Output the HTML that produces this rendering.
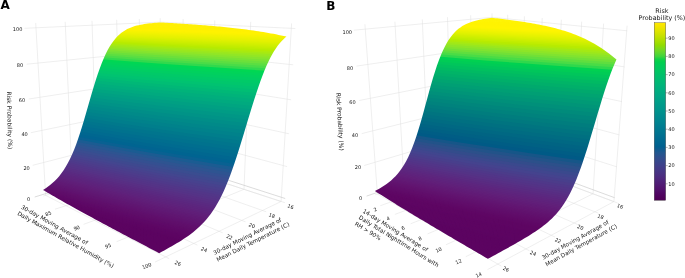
<!DOCTYPE html>
<html><head><meta charset="utf-8"><title>Figure</title>
<style>html,body{margin:0;padding:0;background:#fff}svg{display:block}text{font-family:"DejaVu Sans","Liberation Sans",sans-serif;fill:#151515}</style>
</head><body>
<svg width="685" height="278" viewBox="0 0 685 278">
<line x1="45.6" y1="195.3" x2="35.7" y2="22.9" stroke="#dedede" stroke-width="0.5"/>
<line x1="45.6" y1="195.3" x2="169.2" y2="258.7" stroke="#dedede" stroke-width="0.5"/>
<line x1="72.5" y1="187.5" x2="65.2" y2="21.8" stroke="#dedede" stroke-width="0.5"/>
<line x1="72.5" y1="187.5" x2="197.4" y2="245.1" stroke="#dedede" stroke-width="0.5"/>
<line x1="97.1" y1="180.3" x2="92.0" y2="20.8" stroke="#dedede" stroke-width="0.5"/>
<line x1="97.1" y1="180.3" x2="222.7" y2="232.8" stroke="#dedede" stroke-width="0.5"/>
<line x1="119.8" y1="173.7" x2="116.7" y2="19.8" stroke="#dedede" stroke-width="0.5"/>
<line x1="119.8" y1="173.7" x2="245.5" y2="221.8" stroke="#dedede" stroke-width="0.5"/>
<line x1="140.9" y1="167.6" x2="139.3" y2="19.0" stroke="#dedede" stroke-width="0.5"/>
<line x1="140.9" y1="167.6" x2="266.2" y2="211.8" stroke="#dedede" stroke-width="0.5"/>
<line x1="160.3" y1="161.9" x2="160.2" y2="18.2" stroke="#dedede" stroke-width="0.5"/>
<line x1="160.3" y1="161.9" x2="284.9" y2="202.7" stroke="#dedede" stroke-width="0.5"/>
<line x1="181.7" y1="168.9" x2="183.1" y2="19.1" stroke="#dedede" stroke-width="0.5"/>
<line x1="181.7" y1="168.9" x2="55.0" y2="209.2" stroke="#dedede" stroke-width="0.5"/>
<line x1="211.1" y1="178.5" x2="214.8" y2="20.4" stroke="#dedede" stroke-width="0.5"/>
<line x1="211.1" y1="178.5" x2="83.6" y2="224.3" stroke="#dedede" stroke-width="0.5"/>
<line x1="244.0" y1="189.3" x2="250.7" y2="21.8" stroke="#dedede" stroke-width="0.5"/>
<line x1="244.0" y1="189.3" x2="116.6" y2="241.7" stroke="#dedede" stroke-width="0.5"/>
<line x1="281.1" y1="201.5" x2="291.6" y2="23.4" stroke="#dedede" stroke-width="0.5"/>
<line x1="281.1" y1="201.5" x2="155.1" y2="262.0" stroke="#dedede" stroke-width="0.5"/>
<line x1="160.3" y1="161.9" x2="43.4" y2="196.0" stroke="#dedede" stroke-width="0.5"/>
<line x1="160.3" y1="161.9" x2="281.1" y2="201.5" stroke="#dedede" stroke-width="0.5"/>
<line x1="160.3" y1="158.4" x2="34.7" y2="197.0" stroke="#b8b8b8" stroke-width="0.5"/>
<line x1="160.3" y1="158.4" x2="285.2" y2="198.5" stroke="#b8b8b8" stroke-width="0.5"/>
<line x1="160.3" y1="132.5" x2="32.7" y2="165.3" stroke="#dedede" stroke-width="0.5"/>
<line x1="160.3" y1="132.5" x2="287.1" y2="166.6" stroke="#dedede" stroke-width="0.5"/>
<line x1="160.3" y1="106.0" x2="30.8" y2="132.7" stroke="#dedede" stroke-width="0.5"/>
<line x1="160.3" y1="106.0" x2="289.1" y2="133.8" stroke="#dedede" stroke-width="0.5"/>
<line x1="160.3" y1="78.8" x2="28.7" y2="99.0" stroke="#dedede" stroke-width="0.5"/>
<line x1="160.3" y1="78.8" x2="291.1" y2="99.8" stroke="#dedede" stroke-width="0.5"/>
<line x1="160.2" y1="50.8" x2="26.7" y2="64.2" stroke="#dedede" stroke-width="0.5"/>
<line x1="160.2" y1="50.8" x2="293.2" y2="64.8" stroke="#dedede" stroke-width="0.5"/>
<line x1="160.2" y1="22.1" x2="24.5" y2="28.3" stroke="#dedede" stroke-width="0.5"/>
<line x1="160.2" y1="22.1" x2="295.3" y2="28.5" stroke="#dedede" stroke-width="0.5"/>
<mask id="ca" maskUnits="userSpaceOnUse" x="0" y="0" width="685" height="278"><polygon fill="#fff" points="43.03,189.90 45.41,188.40 47.77,186.77 50.10,185.01 52.41,183.10 54.70,181.00 56.96,178.69 59.19,176.15 61.40,173.35 63.58,170.26 65.74,166.85 67.87,163.11 69.97,159.00 72.05,154.51 74.10,149.63 76.13,144.38 78.14,138.75 80.13,132.78 82.10,126.51 84.06,119.99 86.01,113.31 87.96,106.54 89.90,99.75 91.84,93.05 93.79,86.52 95.73,80.23 97.69,74.26 99.65,68.64 101.62,63.42 103.59,58.63 105.57,54.26 107.55,50.32 109.53,46.79 111.51,43.65 113.50,40.88 115.48,38.43 117.45,36.30 119.42,34.43 121.39,32.80 123.34,31.39 125.29,30.17 127.23,29.11 129.16,28.19 131.08,27.40 132.99,26.71 134.88,26.11 136.77,25.59 138.64,25.14 140.51,24.74 142.36,24.39 144.19,24.08 146.02,23.81 147.83,23.57 149.64,23.35 151.43,23.15 153.21,22.97 154.97,22.81 156.73,22.66 158.47,22.53 160.21,22.40 161.93,22.50 163.66,22.60 165.40,22.70 167.15,22.80 168.92,22.90 170.70,23.01 172.49,23.12 174.29,23.23 176.11,23.34 177.94,23.45 179.78,23.57 181.64,23.69 183.51,23.81 185.39,23.93 187.28,24.06 189.19,24.19 191.12,24.32 193.05,24.46 195.01,24.60 196.97,24.74 198.95,24.89 200.95,25.04 202.96,25.19 204.98,25.35 207.02,25.52 209.08,25.69 211.15,25.86 213.23,26.04 215.33,26.22 217.45,26.41 219.59,26.61 221.73,26.81 223.90,27.02 226.08,27.24 228.28,27.46 230.50,27.69 232.73,27.93 234.98,28.18 237.25,28.44 239.53,28.71 241.83,28.99 244.15,29.28 246.49,29.58 248.85,29.90 251.22,30.22 253.62,30.56 256.03,30.92 258.46,31.29 260.91,31.67 263.38,32.08 265.87,32.50 268.37,32.93 270.90,33.39 273.45,33.87 276.01,34.37 278.60,34.89 281.21,35.44 283.83,36.01 286.48,36.60 284.77,38.02 283.03,39.63 281.27,41.44 279.49,43.49 277.68,45.79 275.85,48.38 273.99,51.27 272.11,54.49 270.19,58.07 268.25,62.02 266.28,66.36 264.29,71.10 262.27,76.24 260.22,81.76 258.15,87.66 256.05,93.90 253.94,100.44 251.81,107.24 249.67,114.23 247.52,121.35 245.37,128.54 243.20,135.72 241.04,142.82 238.88,149.78 236.72,156.53 234.56,163.05 232.40,169.27 230.25,175.18 228.11,180.76 225.96,185.99 223.82,190.88 221.67,195.44 219.53,199.67 217.38,203.59 215.23,207.21 213.07,210.57 210.91,213.69 208.73,216.57 206.54,219.26 204.34,221.76 202.13,224.09 199.91,226.29 197.67,228.35 195.41,230.31 193.13,232.16 190.84,233.93 188.53,235.63 186.20,237.27 183.85,238.85 181.48,240.39 179.08,241.89 176.67,243.35 174.23,244.79 171.77,246.21 169.29,247.62 166.78,249.01 164.25,250.39 161.69,251.76 159.11,253.13 156.56,251.80 154.04,250.48 151.54,249.17 149.07,247.88 146.63,246.60 144.21,245.33 141.81,244.07 139.43,242.82 137.08,241.59 134.75,240.36 132.45,239.15 130.17,237.94 127.90,236.75 125.66,235.57 123.45,234.40 121.25,233.23 119.07,232.08 116.92,230.93 114.78,229.80 112.66,228.67 110.57,227.55 108.49,226.44 106.43,225.34 104.39,224.25 102.37,223.17 100.37,222.09 98.38,221.02 96.42,219.96 94.47,218.91 92.53,217.86 90.62,216.82 88.72,215.79 86.84,214.77 84.97,213.75 83.12,212.73 81.29,211.73 79.47,210.73 77.67,209.73 75.88,208.74 74.11,207.76 72.35,206.78 70.61,205.81 68.88,204.84 67.16,203.88 65.46,202.92 63.77,201.97 62.10,201.02 60.44,200.07 58.80,199.13 57.16,198.19 55.54,197.26 53.93,196.33 52.34,195.40 50.76,194.48 49.19,193.56 47.63,192.64 46.08,191.72 44.55,190.81"/></mask>
<g mask="url(#ca)">
<polygon points="145.9,21.9 173.6,22.6 203.4,23.3 235.3,24.0 269.4,24.7 305.9,25.4 345.0,26.2 343.0,26.4 303.9,25.7 267.3,24.9 233.1,24.2 201.2,23.4 171.4,22.7 143.6,22.1" fill="#ffee00"/>
<polygon points="145.1,22.0 172.9,22.6 202.7,23.3 234.5,24.0 268.7,24.8 305.3,25.5 344.3,26.3 342.4,26.5 303.2,25.7 266.5,25.0 232.3,24.2 200.4,23.5 170.7,22.8 142.9,22.1" fill="#ffee00"/>
<polygon points="144.4,22.0 172.2,22.7 201.9,23.4 233.8,24.1 268.0,24.8 304.6,25.6 343.7,26.4 341.7,26.6 302.5,25.8 265.8,25.0 231.6,24.3 199.7,23.6 169.9,22.9 142.1,22.2" fill="#ffee00"/>
<polygon points="143.6,22.1 171.4,22.7 201.2,23.4 233.1,24.2 267.3,24.9 303.9,25.7 343.0,26.4 341.1,26.7 301.8,25.9 265.1,25.1 230.9,24.4 198.9,23.6 169.2,22.9 141.4,22.2" fill="#ffee00"/>
<polygon points="142.9,22.1 170.7,22.8 200.4,23.5 232.3,24.2 266.5,25.0 303.2,25.7 342.4,26.5 340.4,26.8 301.1,26.0 264.4,25.2 230.1,24.4 198.2,23.7 168.4,23.0 140.6,22.3" fill="#ffee00"/>
<polygon points="142.1,22.2 169.9,22.9 199.7,23.6 231.6,24.3 265.8,25.0 302.5,25.8 341.7,26.6 339.7,26.8 300.4,26.1 263.7,25.3 229.4,24.5 197.4,23.8 167.6,23.0 139.9,22.3" fill="#ffee00"/>
<polygon points="141.4,22.2 169.2,22.9 198.9,23.6 230.9,24.4 265.1,25.1 301.8,25.9 341.1,26.7 339.1,26.9 299.7,26.1 262.9,25.3 228.6,24.6 196.7,23.8 166.9,23.1 139.1,22.4" fill="#ffee00"/>
<polygon points="140.6,22.3 168.4,23.0 198.2,23.7 230.1,24.4 264.4,25.2 301.1,26.0 340.4,26.8 338.4,27.0 299.0,26.2 262.2,25.4 227.9,24.7 195.9,23.9 166.1,23.2 138.4,22.5" fill="#ffee00"/>
<polygon points="139.9,22.3 167.6,23.0 197.4,23.8 229.4,24.5 263.7,25.3 300.4,26.1 339.7,26.8 337.7,27.1 298.3,26.3 261.5,25.5 227.1,24.7 195.2,24.0 165.4,23.2 137.6,22.5" fill="#ffee00"/>
<polygon points="139.1,22.4 166.9,23.1 196.7,23.8 228.6,24.6 262.9,25.3 299.7,26.1 339.1,26.9 337.0,27.2 297.5,26.4 260.7,25.6 226.4,24.8 194.4,24.1 164.6,23.3 136.8,22.6" fill="#ffee00"/>
<polygon points="138.4,22.5 166.1,23.2 195.9,23.9 227.9,24.7 262.2,25.4 299.0,26.2 338.4,27.0 336.3,27.3 296.8,26.5 260.0,25.7 225.6,24.9 193.6,24.1 163.8,23.4 136.1,22.7" fill="#ffee00"/>
<polygon points="137.6,22.5 165.4,23.2 195.2,24.0 227.1,24.7 261.5,25.5 298.3,26.3 337.7,27.1 335.7,27.4 296.1,26.6 259.2,25.8 224.9,25.0 192.9,24.2 163.1,23.5 135.3,22.8" fill="#ffee00"/>
<polygon points="136.8,22.6 164.6,23.3 194.4,24.1 226.4,24.8 260.7,25.6 297.5,26.4 337.0,27.2 335.0,27.6 295.4,26.7 258.5,25.9 224.1,25.1 192.1,24.3 162.3,23.6 134.5,22.8" fill="#ffee00"/>
<polygon points="136.1,22.7 163.8,23.4 193.6,24.1 225.6,24.9 260.0,25.7 296.8,26.5 336.3,27.3 334.3,27.7 294.7,26.8 257.7,26.0 223.3,25.2 191.3,24.4 161.5,23.7 133.8,22.9" fill="#ffee00"/>
<polygon points="135.3,22.8 163.1,23.5 192.9,24.2 224.9,25.0 259.2,25.8 296.1,26.6 335.7,27.4 333.6,27.8 293.9,26.9 257.0,26.1 222.6,25.3 190.5,24.5 160.7,23.8 133.0,23.0" fill="#ffee00"/>
<polygon points="134.5,22.8 162.3,23.6 192.1,24.3 224.1,25.1 258.5,25.9 295.4,26.7 335.0,27.6 332.9,27.9 293.2,27.1 256.2,26.2 221.8,25.4 189.8,24.6 160.0,23.8 132.2,23.1" fill="#ffee00"/>
<polygon points="133.8,22.9 161.5,23.7 191.3,24.4 223.3,25.2 257.7,26.0 294.7,26.8 334.3,27.7 332.2,28.1 292.5,27.2 255.5,26.3 221.0,25.5 189.0,24.7 159.2,24.0 131.4,23.2" fill="#ffee00"/>
<polygon points="133.0,23.0 160.7,23.8 190.5,24.5 222.6,25.3 257.0,26.1 293.9,26.9 333.6,27.8 331.5,28.2 291.7,27.3 254.7,26.5 220.3,25.6 188.2,24.8 158.4,24.1 130.7,23.3" fill="#ffee00"/>
<polygon points="132.2,23.1 160.0,23.8 189.8,24.6 221.8,25.4 256.2,26.2 293.2,27.1 332.9,27.9 330.8,28.3 291.0,27.5 253.9,26.6 219.5,25.8 187.4,25.0 157.6,24.2 129.9,23.4" fill="#ffee00"/>
<polygon points="131.4,23.2 159.2,24.0 189.0,24.7 221.0,25.5 255.5,26.3 292.5,27.2 332.2,28.1 330.1,28.5 290.2,27.6 253.2,26.7 218.7,25.9 186.6,25.1 156.8,24.3 129.1,23.5" fill="#ffee00"/>
<polygon points="130.7,23.3 158.4,24.1 188.2,24.8 220.3,25.6 254.7,26.5 291.7,27.3 331.5,28.2 329.3,28.7 289.5,27.8 252.4,26.9 217.9,26.0 185.8,25.2 156.0,24.4 128.3,23.6" fill="#ffee00"/>
<polygon points="129.9,23.4 157.6,24.2 187.4,25.0 219.5,25.8 253.9,26.6 291.0,27.5 330.8,28.3 328.6,28.8 288.7,27.9 251.6,27.0 217.1,26.2 185.0,25.3 155.2,24.5 127.5,23.8" fill="#ffee00"/>
<polygon points="129.1,23.5 156.8,24.3 186.6,25.1 218.7,25.9 253.2,26.7 290.2,27.6 330.1,28.5 327.9,29.0 288.0,28.1 250.9,27.2 216.3,26.3 184.3,25.5 154.4,24.7 126.7,23.9" fill="#ffee00"/>
<polygon points="128.3,23.6 156.0,24.4 185.8,25.2 217.9,26.0 252.4,26.9 289.5,27.8 329.3,28.7 327.2,29.2 287.2,28.3 250.1,27.4 215.5,26.5 183.5,25.6 153.6,24.8 125.9,24.0" fill="#ffee00"/>
<polygon points="127.5,23.8 155.2,24.5 185.0,25.3 217.1,26.2 251.6,27.0 288.7,27.9 328.6,28.8 326.5,29.4 286.5,28.4 249.3,27.5 214.8,26.7 182.7,25.8 152.8,25.0 125.1,24.2" fill="#ffee00"/>
<polygon points="126.7,23.9 154.4,24.7 184.3,25.5 216.3,26.3 250.9,27.2 288.0,28.1 327.9,29.0 325.7,29.6 285.7,28.6 248.5,27.7 214.0,26.8 181.9,26.0 152.0,25.1 124.3,24.3" fill="#ffee00"/>
<polygon points="125.9,24.0 153.6,24.8 183.5,25.6 215.5,26.5 250.1,27.4 287.2,28.3 327.2,29.2 325.0,29.8 284.9,28.8 247.7,27.9 213.2,27.0 181.0,26.2 151.2,25.3 123.5,24.5" fill="#ffee00"/>
<polygon points="125.1,24.2 152.8,25.0 182.7,25.8 214.8,26.7 249.3,27.5 286.5,28.4 326.5,29.4 324.2,30.0 284.2,29.1 246.9,28.1 212.4,27.2 180.2,26.3 150.4,25.5 122.7,24.7" fill="#ffef00"/>
<polygon points="124.3,24.3 152.0,25.1 181.9,26.0 214.0,26.8 248.5,27.7 285.7,28.6 325.7,29.6 323.5,30.3 283.4,29.3 246.1,28.3 211.5,27.4 179.4,26.5 149.6,25.7 121.9,24.9" fill="#ffef00"/>
<polygon points="123.5,24.5 151.2,25.3 181.0,26.2 213.2,27.0 247.7,27.9 284.9,28.8 325.0,29.8 322.8,30.5 282.6,29.5 245.3,28.6 210.7,27.7 178.6,26.8 148.8,25.9 121.1,25.1" fill="#ffef00"/>
<polygon points="122.7,24.7 150.4,25.5 180.2,26.3 212.4,27.2 246.9,28.1 284.2,29.1 324.2,30.0 322.0,30.8 281.8,29.8 244.5,28.8 209.9,27.9 177.8,27.0 148.0,26.1 120.3,25.3" fill="#ffef00"/>
<polygon points="121.9,24.9 149.6,25.7 179.4,26.5 211.5,27.4 246.1,28.3 283.4,29.3 323.5,30.3 321.3,31.1 281.1,30.1 243.7,29.1 209.1,28.1 177.0,27.2 147.2,26.3 119.5,25.5" fill="#fff000"/>
<polygon points="121.1,25.1 148.8,25.9 178.6,26.8 210.7,27.7 245.3,28.6 282.6,29.5 322.8,30.5 320.5,31.4 280.3,30.4 242.9,29.4 208.3,28.4 176.2,27.5 146.4,26.6 118.7,25.7" fill="#fff000"/>
<polygon points="120.3,25.3 148.0,26.1 177.8,27.0 209.9,27.9 244.5,28.8 281.8,29.8 322.0,30.8 319.7,31.7 279.5,30.7 242.1,29.7 207.5,28.7 175.3,27.7 145.5,26.8 117.9,26.0" fill="#fff000"/>
<polygon points="119.5,25.5 147.2,26.3 177.0,27.2 209.1,28.1 243.7,29.1 281.1,30.1 321.3,31.1 319.0,32.0 278.7,31.0 241.3,30.0 206.6,29.0 174.5,28.0 144.7,27.1 117.1,26.2" fill="#fff000"/>
<polygon points="118.7,25.7 146.4,26.6 176.2,27.5 208.3,28.4 242.9,29.4 280.3,30.4 320.5,31.4 318.2,32.4 277.9,31.3 240.5,30.3 205.8,29.3 173.7,28.3 143.9,27.4 116.3,26.5" fill="#fff000"/>
<polygon points="117.9,26.0 145.5,26.8 175.3,27.7 207.5,28.7 242.1,29.7 279.5,30.7 319.7,31.7 317.4,32.8 277.1,31.7 239.7,30.7 205.0,29.6 172.9,28.7 143.1,27.7 115.4,26.8" fill="#fff000"/>
<polygon points="117.1,26.2 144.7,27.1 174.5,28.0 206.6,29.0 241.3,30.0 278.7,31.0 319.0,32.0 316.6,33.2 276.3,32.1 238.8,31.0 204.2,30.0 172.0,29.0 142.2,28.1 114.6,27.1" fill="#fff100"/>
<polygon points="116.3,26.5 143.9,27.4 173.7,28.3 205.8,29.3 240.5,30.3 277.9,31.3 318.2,32.4 315.9,33.6 275.5,32.5 238.0,31.4 203.3,30.4 171.2,29.4 141.4,28.4 113.8,27.5" fill="#fff100"/>
<polygon points="115.4,26.8 143.1,27.7 172.9,28.7 205.0,29.6 239.7,30.7 277.1,31.7 317.4,32.8 315.1,34.1 274.6,32.9 237.2,31.8 202.5,30.8 170.3,29.8 140.6,28.8 113.0,27.8" fill="#fff100"/>
<polygon points="114.6,27.1 142.2,28.1 172.0,29.0 204.2,30.0 238.8,31.0 276.3,32.1 316.6,33.2 314.3,34.6 273.8,33.4 236.4,32.3 201.6,31.2 169.5,30.2 139.7,29.2 112.1,28.2" fill="#fff100"/>
<polygon points="113.8,27.5 141.4,28.4 171.2,29.4 203.3,30.4 238.0,31.4 275.5,32.5 315.9,33.6 313.5,35.1 273.0,33.9 235.5,32.8 200.8,31.7 168.7,30.6 138.9,29.6 111.3,28.6" fill="#fff100"/>
<polygon points="113.0,27.8 140.6,28.8 170.3,29.8 202.5,30.8 237.2,31.8 274.6,32.9 315.1,34.1 312.7,35.6 272.2,34.4 234.7,33.3 200.0,32.2 167.8,31.1 138.1,30.1 110.5,29.1" fill="#fff200"/>
<polygon points="112.1,28.2 139.7,29.2 169.5,30.2 201.6,31.2 236.4,32.3 273.8,33.4 314.3,34.6 311.9,36.2 271.3,35.0 233.8,33.8 199.1,32.7 167.0,31.6 137.2,30.5 109.7,29.5" fill="#fff200"/>
<polygon points="111.3,28.6 138.9,29.6 168.7,30.6 200.8,31.7 235.5,32.8 273.0,33.9 313.5,35.1 311.0,36.8 270.5,35.6 233.0,34.4 198.2,33.2 166.1,32.1 136.4,31.0 108.8,30.0" fill="#fef200"/>
<polygon points="110.5,29.1 138.1,30.1 167.8,31.1 200.0,32.2 234.7,33.3 272.2,34.4 312.7,35.6 310.2,37.5 269.7,36.2 232.1,35.0 197.4,33.8 165.3,32.7 135.5,31.6 108.0,30.5" fill="#fdf200"/>
<polygon points="109.7,29.5 137.2,30.5 167.0,31.6 199.1,32.7 233.8,33.8 271.3,35.0 311.9,36.2 309.4,38.2 268.8,36.9 231.3,35.6 196.5,34.4 164.4,33.3 134.7,32.2 107.2,31.1" fill="#fbf200"/>
<polygon points="108.8,30.0 136.4,31.0 166.1,32.1 198.2,33.2 233.0,34.4 270.5,35.6 311.0,36.8 308.6,38.9 268.0,37.6 230.4,36.3 195.7,35.1 163.5,33.9 133.8,32.8 106.3,31.7" fill="#f8f200"/>
<polygon points="108.0,30.5 135.5,31.6 165.3,32.7 197.4,33.8 232.1,35.0 269.7,36.2 310.2,37.5 307.7,39.7 267.1,38.4 229.5,37.1 194.8,35.8 162.7,34.6 133.0,33.4 105.5,32.3" fill="#f6f200"/>
<polygon points="107.2,31.1 134.7,32.2 164.4,33.3 196.5,34.4 231.3,35.6 268.8,36.9 309.4,38.2 306.9,40.6 266.2,39.2 228.7,37.8 193.9,36.5 161.8,35.3 132.1,34.1 104.6,33.0" fill="#f3f200"/>
<polygon points="106.3,31.7 133.8,32.8 163.5,33.9 195.7,35.1 230.4,36.3 268.0,37.6 308.6,38.9 306.0,41.5 265.4,40.0 227.8,38.7 193.1,37.3 160.9,36.1 131.3,34.9 103.8,33.7" fill="#f0f200"/>
<polygon points="105.5,32.3 133.0,33.4 162.7,34.6 194.8,35.8 229.5,37.1 267.1,38.4 307.7,39.7 305.2,42.4 264.5,40.9 226.9,39.5 192.2,38.2 160.1,36.9 130.4,35.6 103.0,34.5" fill="#edf200"/>
<polygon points="104.6,33.0 132.1,34.1 161.8,35.3 193.9,36.5 228.7,37.8 266.2,39.2 306.9,40.6 304.3,43.4 263.6,41.9 226.0,40.5 191.3,39.1 159.2,37.7 129.6,36.5 102.1,35.3" fill="#eaf100"/>
<polygon points="103.8,33.7 131.3,34.9 160.9,36.1 193.1,37.3 227.8,38.7 265.4,40.0 306.0,41.5 303.4,44.5 262.7,42.9 225.1,41.5 190.4,40.0 158.3,38.7 128.7,37.4 101.3,36.1" fill="#e6f100"/>
<polygon points="103.0,34.5 130.4,35.6 160.1,36.9 192.2,38.2 226.9,39.5 264.5,40.9 305.2,42.4 302.6,45.6 261.9,44.0 224.3,42.5 189.5,41.0 157.5,39.6 127.8,38.3 100.4,37.0" fill="#e2f100"/>
<polygon points="102.1,35.3 129.6,36.5 159.2,37.7 191.3,39.1 226.0,40.5 263.6,41.9 304.3,43.4 301.7,46.8 261.0,45.2 223.4,43.6 188.6,42.1 156.6,40.7 127.0,39.3 99.6,38.0" fill="#ddf000"/>
<polygon points="101.3,36.1 128.7,37.4 158.3,38.7 190.4,40.0 225.1,41.5 262.7,42.9 303.4,44.5 300.8,48.1 260.1,46.4 222.5,44.8 187.8,43.2 155.7,41.7 126.1,40.3 98.8,39.0" fill="#d7f000"/>
<polygon points="100.4,37.0 127.8,38.3 157.5,39.6 189.5,41.0 224.3,42.5 261.9,44.0 302.6,45.6 299.9,49.4 259.2,47.7 221.6,46.0 186.9,44.4 154.8,42.9 125.2,41.4 97.9,40.0" fill="#d2ef00"/>
<polygon points="99.6,38.0 127.0,39.3 156.6,40.7 188.6,42.1 223.4,43.6 261.0,45.2 301.7,46.8 299.0,50.8 258.2,49.0 220.6,47.3 186.0,45.7 153.9,44.1 124.4,42.6 97.1,41.2" fill="#ccee00"/>
<polygon points="98.8,39.0 126.1,40.3 155.7,41.7 187.8,43.2 222.5,44.8 260.1,46.4 300.8,48.1 298.1,52.3 257.3,50.5 219.7,48.7 185.1,47.0 153.1,45.4 123.5,43.8 96.2,42.4" fill="#c5ed00"/>
<polygon points="97.9,40.0 125.2,41.4 154.8,42.9 186.9,44.4 221.6,46.0 259.2,47.7 299.9,49.4 297.2,53.9 256.4,52.0 218.8,50.2 184.2,48.4 152.2,46.7 122.7,45.1 95.4,43.6" fill="#beec00"/>
<polygon points="97.1,41.2 124.4,42.6 153.9,44.1 186.0,45.7 220.6,47.3 258.2,49.0 299.0,50.8 296.2,55.5 255.5,53.6 217.9,51.7 183.2,49.9 151.3,48.2 121.8,46.5 94.6,44.9" fill="#b6eb00"/>
<polygon points="96.2,42.4 123.5,43.8 153.1,45.4 185.1,47.0 219.7,48.7 257.3,50.5 298.1,52.3 295.3,57.3 254.5,55.3 217.0,53.3 182.3,51.4 150.4,49.7 120.9,48.0 93.7,46.3" fill="#aeea0b"/>
<polygon points="95.4,43.6 122.7,45.1 152.2,46.7 184.2,48.4 218.8,50.2 256.4,52.0 297.2,53.9 294.3,59.1 253.6,57.0 216.0,55.0 181.4,53.1 149.5,51.2 120.1,49.5 92.9,47.8" fill="#a4e915"/>
<polygon points="94.6,44.9 121.8,46.5 151.3,48.2 183.2,49.9 217.9,51.7 255.5,53.6 296.2,55.5 293.4,61.0 252.7,58.9 215.1,56.8 180.5,54.8 148.6,52.9 119.2,51.1 92.0,49.3" fill="#9be71e"/>
<polygon points="93.7,46.3 120.9,48.0 150.4,49.7 182.3,51.4 217.0,53.3 254.5,55.3 295.3,57.3 292.4,63.1 251.7,60.8 214.2,58.7 179.6,56.6 147.7,54.6 118.3,52.8 91.2,51.0" fill="#91e626"/>
<polygon points="92.9,47.8 120.1,49.5 149.5,51.2 181.4,53.1 216.0,55.0 253.6,57.0 294.3,59.1 291.5,65.2 250.7,62.9 213.2,60.6 178.7,58.5 146.8,56.4 117.5,54.5 90.4,52.7" fill="#86e42e"/>
<polygon points="92.0,49.3 119.2,51.1 148.6,52.9 180.5,54.8 215.1,56.8 252.7,58.9 293.4,61.0 290.5,67.4 249.8,65.0 212.3,62.7 177.8,60.5 145.9,58.4 116.6,56.3 89.5,54.4" fill="#79e234"/>
<polygon points="91.2,51.0 118.3,52.8 147.7,54.6 179.6,56.6 214.2,58.7 251.7,60.8 292.4,63.1 289.5,69.7 248.8,67.2 211.3,64.8 176.8,62.5 145.0,60.3 115.7,58.3 88.7,56.3" fill="#6be03b"/>
<polygon points="90.4,52.7 117.5,54.5 146.8,56.4 178.7,58.5 213.2,60.6 250.7,62.9 291.5,65.2 288.5,72.1 247.8,69.5 210.4,67.0 175.9,64.7 144.1,62.4 114.9,60.3 87.9,58.2" fill="#5bde42"/>
<polygon points="89.5,54.4 116.6,56.3 145.9,58.4 177.8,60.5 212.3,62.7 249.8,65.0 290.5,67.4 287.5,74.6 246.9,71.9 209.4,69.4 175.0,66.9 143.2,64.6 114.0,62.3 87.0,60.2" fill="#49dc48"/>
<polygon points="88.7,56.3 115.7,58.3 145.0,60.3 176.8,62.5 211.3,64.8 248.8,67.2 289.5,69.7 286.5,77.2 245.9,74.4 208.5,71.8 174.0,69.2 142.3,66.8 113.1,64.5 86.2,62.3" fill="#31d94d"/>
<polygon points="87.9,58.2 114.9,60.3 144.1,62.4 175.9,64.7 210.4,67.0 247.8,69.5 288.5,72.1 285.5,79.9 244.9,77.0 207.5,74.3 173.1,71.6 141.4,69.1 112.3,66.7 85.4,64.5" fill="#00d753"/>
<polygon points="87.0,60.2 114.0,62.3 143.2,64.6 175.0,66.9 209.4,69.4 246.9,71.9 287.5,74.6 284.5,82.7 243.9,79.7 206.5,76.9 172.2,74.1 140.5,71.5 111.4,69.0 84.5,66.7" fill="#00d459"/>
<polygon points="86.2,62.3 113.1,64.5 142.3,66.8 174.0,69.2 208.5,71.8 245.9,74.4 286.5,77.2 283.5,85.6 242.9,82.5 205.6,79.5 171.2,76.7 139.6,74.0 110.5,71.4 83.7,69.0" fill="#00d15e"/>
<polygon points="85.4,64.5 112.3,66.7 141.4,69.1 173.1,71.6 207.5,74.3 244.9,77.0 285.5,79.9 282.4,88.6 241.9,85.4 204.6,82.3 170.3,79.4 138.7,76.6 109.7,73.9 82.9,71.4" fill="#00ce63"/>
<polygon points="84.5,66.7 111.4,69.0 140.5,71.5 172.2,74.1 206.5,76.9 243.9,79.7 284.5,82.7 281.4,91.7 240.9,88.3 203.6,85.1 169.4,82.1 137.8,79.2 108.8,76.4 82.1,73.8" fill="#00ca68"/>
<polygon points="83.7,69.0 110.5,71.4 139.6,74.0 171.2,76.7 205.6,79.5 242.9,82.5 283.5,85.6 280.3,94.8 239.9,91.4 202.6,88.1 168.4,84.9 136.9,81.9 108.0,79.0 81.2,76.3" fill="#00c76c"/>
<polygon points="82.9,71.4 109.7,73.9 138.7,76.6 170.3,79.4 204.6,82.3 241.9,85.4 282.4,88.6 279.3,98.0 238.8,94.5 201.7,91.0 167.5,87.8 136.0,84.7 107.1,81.7 80.4,78.9" fill="#00c371"/>
<polygon points="82.1,73.8 108.8,76.4 137.8,79.2 169.4,82.1 203.6,85.1 240.9,88.3 281.4,91.7 278.2,101.3 237.8,97.6 200.7,94.1 166.5,90.7 135.1,87.5 106.2,84.4 79.6,81.5" fill="#00be74"/>
<polygon points="81.2,76.3 108.0,79.0 136.9,81.9 168.4,84.9 202.6,88.1 239.9,91.4 280.3,94.8 277.2,104.7 236.8,100.9 199.7,97.2 165.6,93.7 134.2,90.4 105.4,87.2 78.8,84.2" fill="#00b877"/>
<polygon points="80.4,78.9 107.1,81.7 136.0,84.7 167.5,87.8 201.7,91.0 238.8,94.5 279.3,98.0 276.1,108.1 235.8,104.2 198.7,100.4 164.6,96.7 133.3,93.3 104.5,90.0 78.0,86.9" fill="#00b37a"/>
<polygon points="79.6,81.5 106.2,84.4 135.1,87.5 166.5,90.7 200.7,94.1 237.8,97.6 278.2,101.3 275.0,111.6 234.7,107.5 197.7,103.6 163.7,99.8 132.4,96.3 103.7,92.9 77.2,89.7" fill="#00ae7d"/>
<polygon points="78.8,84.2 105.4,87.2 134.2,90.4 165.6,93.7 199.7,97.2 236.8,100.9 277.2,104.7 274.0,115.1 233.7,110.9 196.7,106.8 162.8,103.0 131.5,99.3 102.8,95.8 76.4,92.5" fill="#00aa7f"/>
<polygon points="78.0,86.9 104.5,90.0 133.3,93.3 164.6,96.7 198.7,100.4 235.8,104.2 276.1,108.1 272.9,118.7 232.7,114.3 195.7,110.1 161.8,106.1 130.6,102.3 101.9,98.7 75.5,95.3" fill="#00a581"/>
<polygon points="77.2,89.7 103.7,92.9 132.4,96.3 163.7,99.8 197.7,103.6 234.7,107.5 275.0,111.6 271.8,122.3 231.6,117.7 194.7,113.4 160.9,109.3 129.7,105.4 101.1,101.7 74.7,98.2" fill="#00a083"/>
<polygon points="76.4,92.5 102.8,95.8 131.5,99.3 162.8,103.0 196.7,106.8 233.7,110.9 274.0,115.1 270.7,125.9 230.6,121.2 193.7,116.7 159.9,112.5 128.8,108.5 100.2,104.7 73.9,101.0" fill="#009c85"/>
<polygon points="75.5,95.3 101.9,98.7 130.6,102.3 161.8,106.1 195.7,110.1 232.7,114.3 272.9,118.7 269.6,129.5 229.5,124.7 192.7,120.1 159.0,115.7 127.9,111.6 99.4,107.6 73.1,103.9" fill="#009786"/>
<polygon points="74.7,98.2 101.1,101.7 129.7,105.4 160.9,109.3 194.7,113.4 231.6,117.7 271.8,122.3 268.5,133.1 228.5,128.1 191.7,123.4 158.0,118.9 127.0,114.7 98.5,110.6 72.3,106.8" fill="#009387"/>
<polygon points="73.9,101.0 100.2,104.7 128.8,108.5 159.9,112.5 193.7,116.7 230.6,121.2 270.7,125.9 267.5,136.7 227.5,131.6 190.7,126.7 157.1,122.1 126.1,117.7 97.7,113.6 71.5,109.6" fill="#008e88"/>
<polygon points="73.1,103.9 99.4,107.6 127.9,111.6 159.0,115.7 192.7,120.1 229.5,124.7 269.6,129.5 266.4,140.3 226.4,135.1 189.8,130.1 156.1,125.3 125.2,120.8 96.8,116.5 70.7,112.5" fill="#008a89"/>
<polygon points="72.3,106.8 98.5,110.6 127.0,114.7 158.0,118.9 191.7,123.4 228.5,128.1 268.5,133.1 265.3,143.9 225.4,138.5 188.8,133.4 155.2,128.5 124.3,123.9 95.9,119.5 69.8,115.3" fill="#00868a"/>
<polygon points="71.5,109.6 97.7,113.6 126.1,117.7 157.1,122.1 190.7,126.7 227.5,131.6 267.5,136.7 264.2,147.4 224.3,141.9 187.8,136.6 154.2,131.6 123.4,126.9 95.1,122.4 69.0,118.1" fill="#00828b"/>
<polygon points="70.7,112.5 96.8,116.5 125.2,120.8 156.1,125.3 189.8,130.1 226.4,135.1 266.4,140.3 263.1,150.9 223.3,145.3 186.8,139.8 153.2,134.7 122.5,129.9 94.2,125.3 68.2,120.9" fill="#007e8c"/>
<polygon points="69.8,115.3 95.9,119.5 124.3,123.9 155.2,128.5 188.8,133.4 225.4,138.5 265.3,143.9 262.0,154.4 222.2,148.6 185.7,143.0 152.3,137.8 121.6,132.8 93.4,128.1 67.4,123.6" fill="#00798c"/>
<polygon points="69.0,118.1 95.1,122.4 123.4,126.9 154.2,131.6 187.8,136.6 224.3,141.9 264.2,147.4 260.9,157.8 221.2,151.8 184.7,146.2 151.3,140.8 120.7,135.7 92.5,130.9 66.6,126.3" fill="#00758d"/>
<polygon points="68.2,120.9 94.2,125.3 122.5,129.9 153.2,134.7 186.8,139.8 223.3,145.3 263.1,150.9 259.9,161.2 220.1,155.1 183.7,149.3 150.4,143.8 119.7,138.5 91.6,133.6 65.7,128.9" fill="#00728e"/>
<polygon points="67.4,123.6 93.4,128.1 121.6,132.8 152.3,137.8 185.7,143.0 222.2,148.6 262.0,154.4 258.8,164.5 219.1,158.2 182.7,152.3 149.4,146.7 118.8,141.3 90.7,136.3 64.9,131.5" fill="#006e8f"/>
<polygon points="66.6,126.3 92.5,130.9 120.7,135.7 151.3,140.8 184.7,146.2 221.2,151.8 260.9,157.8 257.7,167.7 218.1,161.3 181.7,155.2 148.4,149.5 117.9,144.1 89.9,138.9 64.1,134.0" fill="#006b90"/>
<polygon points="65.7,128.9 91.6,133.6 119.7,138.5 150.4,143.8 183.7,149.3 220.1,155.1 259.9,161.2 256.6,170.8 217.0,164.3 180.7,158.1 147.5,152.3 117.0,146.7 89.0,141.5 63.2,136.5" fill="#006790"/>
<polygon points="64.9,131.5 90.7,136.3 118.8,141.3 149.4,146.7 182.7,152.3 219.1,158.2 258.8,164.5 255.5,173.9 216.0,167.3 179.7,161.0 146.5,155.0 116.1,149.3 88.1,144.0 62.4,138.9" fill="#006491"/>
<polygon points="64.1,134.0 89.9,138.9 117.9,144.1 148.4,149.5 181.7,155.2 218.1,161.3 257.7,167.7 254.5,176.9 214.9,170.1 178.7,163.7 145.6,157.6 115.1,151.9 87.2,146.4 61.6,141.3" fill="#096192"/>
<polygon points="63.2,136.5 89.0,141.5 117.0,146.7 147.5,152.3 180.7,158.1 217.0,164.3 256.6,170.8 253.4,179.8 213.9,172.9 177.7,166.4 144.6,160.2 114.2,154.3 86.3,148.8 60.7,143.5" fill="#1b5c92"/>
<polygon points="62.4,138.9 88.1,144.0 116.1,149.3 146.5,155.0 179.7,161.0 216.0,167.3 255.5,173.9 252.3,182.7 212.8,175.6 176.7,169.0 143.6,162.7 113.3,156.7 85.4,151.1 59.9,145.7" fill="#265892"/>
<polygon points="61.6,141.3 87.2,146.4 115.1,151.9 145.6,157.6 178.7,163.7 214.9,170.1 254.5,176.9 251.3,185.4 211.8,178.3 175.7,171.5 142.6,165.1 112.3,159.0 84.5,153.3 59.0,147.8" fill="#2e5491"/>
<polygon points="60.7,143.5 86.3,148.8 114.2,154.3 144.6,160.2 177.7,166.4 213.9,172.9 253.4,179.8 250.2,188.1 210.8,180.8 174.7,173.9 141.7,167.4 111.4,161.2 83.6,155.4 58.1,149.9" fill="#345091"/>
<polygon points="59.9,145.7 85.4,151.1 113.3,156.7 143.6,162.7 176.7,169.0 212.8,175.6 252.3,182.7 249.1,190.7 209.7,183.3 173.7,176.3 140.7,169.7 110.5,163.4 82.7,157.5 57.3,151.9" fill="#3a4d90"/>
<polygon points="59.0,147.8 84.5,153.3 112.3,159.0 142.6,165.1 175.7,171.5 211.8,178.3 251.3,185.4 248.1,193.2 208.7,185.7 172.7,178.6 139.7,171.8 109.5,165.5 81.8,159.5 56.4,153.8" fill="#3e498f"/>
<polygon points="58.1,149.9 83.6,155.4 111.4,161.2 141.7,167.4 174.7,173.9 210.8,180.8 250.2,188.1 247.0,195.6 207.6,188.0 171.6,180.8 138.7,173.9 108.6,167.5 80.9,161.4 55.5,155.7" fill="#43468f"/>
<polygon points="57.3,151.9 82.7,157.5 110.5,163.4 140.7,169.7 173.7,176.3 209.7,183.3 249.1,190.7 245.9,197.9 206.6,190.2 170.6,182.9 137.7,176.0 107.6,169.4 80.0,163.3 54.6,157.4" fill="#47428e"/>
<polygon points="56.4,153.8 81.8,159.5 109.5,165.5 139.7,171.8 172.7,178.6 208.7,185.7 248.1,193.2 244.9,200.2 205.5,192.3 169.6,184.9 136.7,177.9 106.6,171.3 79.1,165.0 53.7,159.1" fill="#4a3f8c"/>
<polygon points="55.5,155.7 80.9,161.4 108.6,167.5 138.7,173.9 171.6,180.8 207.6,188.0 247.0,195.6 243.8,202.4 204.5,194.4 168.6,186.9 135.7,179.8 105.7,173.1 78.1,166.8 52.8,160.8" fill="#4d3c8b"/>
<polygon points="54.6,157.4 80.0,163.3 107.6,169.4 137.7,176.0 170.6,182.9 206.6,190.2 245.9,197.9 242.7,204.5 203.5,196.4 167.6,188.8 134.8,181.6 104.7,174.8 77.2,168.4 51.9,162.4" fill="#4f398a"/>
<polygon points="53.7,159.1 79.1,165.0 106.6,171.3 136.7,177.9 169.6,184.9 205.5,192.3 244.9,200.2 241.7,206.5 202.4,198.3 166.5,190.6 133.8,183.3 103.8,176.5 76.3,170.0 51.0,163.9" fill="#523688"/>
<polygon points="52.8,160.8 78.1,166.8 105.7,173.1 135.7,179.8 168.6,186.9 204.5,194.4 243.8,202.4 240.6,208.4 201.4,200.2 165.5,192.4 132.8,185.0 102.8,178.0 75.3,171.5 50.1,165.3" fill="#543487"/>
<polygon points="51.9,162.4 77.2,168.4 104.7,174.8 134.8,181.6 167.6,188.8 203.5,196.4 242.7,204.5 239.6,210.3 200.3,201.9 164.5,194.0 131.7,186.6 101.8,179.6 74.4,173.0 49.2,166.7" fill="#563286"/>
<polygon points="51.0,163.9 76.3,170.0 103.8,176.5 133.8,183.3 166.5,190.6 202.4,198.3 241.7,206.5 238.5,212.1 199.3,203.7 163.4,195.7 130.7,188.1 100.8,181.0 73.4,174.4 48.3,168.0" fill="#582f84"/>
<polygon points="50.1,165.3 75.3,171.5 102.8,178.0 132.8,185.0 165.5,192.4 201.4,200.2 240.6,208.4 237.4,213.9 198.2,205.3 162.4,197.2 129.7,189.6 99.8,182.4 72.5,175.7 47.4,169.3" fill="#592d83"/>
<polygon points="49.2,166.7 74.4,173.0 101.8,179.6 131.7,186.6 164.5,194.0 200.3,201.9 239.6,210.3 236.4,215.5 197.1,206.9 161.4,198.7 128.7,191.0 98.8,183.8 71.5,177.0 46.4,170.5" fill="#5a2a81"/>
<polygon points="48.3,168.0 73.4,174.4 100.8,181.0 130.7,188.1 163.4,195.7 199.3,203.7 238.5,212.1 235.3,217.2 196.1,208.4 160.3,200.2 127.7,192.4 97.8,185.1 70.5,178.2 45.5,171.7" fill="#5b2880"/>
<polygon points="47.4,169.3 72.5,175.7 99.8,182.4 129.7,189.6 162.4,197.2 198.2,205.3 237.4,213.9 234.2,218.7 195.0,209.9 159.3,201.6 126.7,193.7 96.8,186.3 69.6,179.4 44.6,172.8" fill="#5c267e"/>
<polygon points="46.4,170.5 71.5,177.0 98.8,183.8 128.7,191.0 161.4,198.7 197.1,206.9 236.4,215.5 233.2,220.2 194.0,211.3 158.2,202.9 125.6,195.0 95.8,187.5 68.6,180.5 43.6,173.9" fill="#5d247d"/>
<polygon points="45.5,171.7 70.5,178.2 97.8,185.1 127.7,192.4 160.3,200.2 196.1,208.4 235.3,217.2 232.1,221.7 192.9,212.7 157.2,204.2 124.6,196.2 94.8,188.7 67.6,181.6 42.7,174.9" fill="#5e237c"/>
<polygon points="44.6,172.8 69.6,179.4 96.8,186.3 126.7,193.7 159.3,201.6 195.0,209.9 234.2,218.7 231.0,223.1 191.8,214.0 156.1,205.4 123.6,197.3 93.8,189.8 66.6,182.6 41.7,175.9" fill="#5f217b"/>
<polygon points="43.6,173.9 68.6,180.5 95.8,187.5 125.6,195.0 158.2,202.9 194.0,211.3 233.2,220.2 229.9,224.4 190.8,215.2 155.1,206.6 122.5,198.5 92.8,190.8 65.6,183.6 40.8,176.9" fill="#601f79"/>
<polygon points="42.7,174.9 67.6,181.6 94.8,188.7 124.6,196.2 157.2,204.2 192.9,212.7 232.1,221.7 228.9,225.7 189.7,216.5 154.0,207.7 121.5,199.5 91.8,191.8 64.6,184.6 39.8,177.8" fill="#601e78"/>
<polygon points="41.7,175.9 66.6,182.6 93.8,189.8 123.6,197.3 156.1,205.4 191.8,214.0 231.0,223.1 227.8,227.0 188.6,217.6 152.9,208.9 120.4,200.6 90.8,192.8 63.6,185.5 38.8,178.7" fill="#601c76"/>
<polygon points="40.8,176.9 65.6,183.6 92.8,190.8 122.5,198.5 155.1,206.6 190.8,215.2 229.9,224.4 226.7,228.2 187.5,218.8 151.9,209.9 119.4,201.6 89.7,193.8 62.6,186.4 37.9,179.5" fill="#601a75"/>
<polygon points="39.8,177.8 64.6,184.6 91.8,191.8 121.5,199.5 154.0,207.7 189.7,216.5 228.9,225.7 225.6,229.4 186.4,219.9 150.8,211.0 118.3,202.6 88.7,194.7 61.6,187.3 36.9,180.3" fill="#601974"/>
<polygon points="38.8,178.7 63.6,185.5 90.8,192.8 120.4,200.6 152.9,208.9 188.6,217.6 227.8,227.0 224.5,230.6 185.3,221.0 149.7,211.9 117.3,203.5 87.7,195.6 60.6,188.1 35.9,181.1" fill="#601772"/>
<polygon points="37.9,179.5 62.6,186.4 89.7,193.8 119.4,201.6 151.9,209.9 187.5,218.8 226.7,228.2 223.4,231.7 184.3,222.0 148.6,212.9 116.2,204.4 86.6,196.4 59.6,188.9 34.9,181.8" fill="#601671"/>
<polygon points="36.9,180.3 61.6,187.3 88.7,194.7 118.3,202.6 150.8,211.0 186.4,219.9 225.6,229.4 222.3,232.8 183.2,223.0 147.5,213.9 115.1,205.3 85.6,197.2 58.6,189.7 33.9,182.6" fill="#601470"/>
<polygon points="35.9,181.1 60.6,188.1 87.7,195.6 117.3,203.5 149.7,211.9 185.3,221.0 224.5,230.6 221.2,233.8 182.1,224.0 146.4,214.8 114.0,206.1 84.5,198.0 57.6,190.4 32.9,183.3" fill="#60136f"/>
<polygon points="34.9,181.8 59.6,188.9 86.6,196.4 116.2,204.4 148.6,212.9 184.3,222.0 223.4,231.7 220.1,234.8 180.9,224.9 145.3,215.6 113.0,206.9 83.5,198.8 56.5,191.1 31.9,183.9" fill="#60116e"/>
<polygon points="33.9,182.6 58.6,189.7 85.6,197.2 115.1,205.3 147.5,213.9 183.2,223.0 222.3,232.8 219.0,235.8 179.8,225.9 144.2,216.5 111.9,207.7 82.4,199.5 55.5,191.8 30.9,184.6" fill="#60106c"/>
<polygon points="32.9,183.3 57.6,190.4 84.5,198.0 114.0,206.1 146.4,214.8 182.1,224.0 221.2,233.8 217.9,236.8 178.7,226.8 143.1,217.3 110.8,208.5 81.3,200.2 54.5,192.5 29.9,185.2" fill="#600f6b"/>
<polygon points="31.9,183.9 56.5,191.1 83.5,198.8 113.0,206.9 145.3,215.6 180.9,224.9 220.1,234.8 216.8,237.8 177.6,227.6 142.0,218.1 109.7,209.3 80.3,200.9 53.4,193.1 28.9,185.8" fill="#5f0e6a"/>
<polygon points="30.9,184.6 55.5,191.8 82.4,199.5 111.9,207.7 144.2,216.5 179.8,225.9 219.0,235.8 215.7,238.7 176.5,228.5 140.9,218.9 108.6,210.0 79.2,201.6 52.4,193.8 27.9,186.4" fill="#5f0d69"/>
<polygon points="29.9,185.2 54.5,192.5 81.3,200.2 110.8,208.5 143.1,217.3 178.7,226.8 217.9,236.8 214.6,239.6 175.4,229.3 139.8,219.7 107.5,210.7 78.1,202.3 51.3,194.4 26.8,187.0" fill="#5f0c68"/>
<polygon points="28.9,185.8 53.4,193.1 80.3,200.9 109.7,209.3 142.0,218.1 177.6,227.6 216.8,237.8 213.4,240.5 174.2,230.1 138.7,220.5 106.4,211.4 77.0,202.9 50.3,195.0 25.8,187.5" fill="#5f0a68"/>
<polygon points="27.9,186.4 52.4,193.8 79.2,201.6 108.6,210.0 140.9,218.9 176.5,228.5 215.7,238.7 212.3,241.4 173.1,231.0 137.6,221.2 105.3,212.1 75.9,203.5 49.2,195.5 24.8,188.1" fill="#5e0967"/>
<polygon points="26.8,187.0 51.3,194.4 78.1,202.3 107.5,210.7 139.8,219.7 175.4,229.3 214.6,239.6 211.2,242.3 172.0,231.7 136.4,221.9 104.2,212.7 74.8,204.1 48.1,196.1 23.8,188.6" fill="#5e0966"/>
<polygon points="25.8,187.5 50.3,195.0 77.0,202.9 106.4,211.4 138.7,220.5 174.2,230.1 213.4,240.5 210.0,243.1 170.8,232.5 135.3,222.6 103.1,213.4 73.7,204.7 47.1,196.7 22.7,189.1" fill="#5e0865"/>
<polygon points="24.8,188.1 49.2,195.5 75.9,203.5 105.3,212.1 137.6,221.2 173.1,231.0 212.3,241.4 208.9,243.9 169.7,233.3 134.1,223.3 101.9,214.0 72.6,205.3 46.0,197.2 21.7,189.6" fill="#5e0764"/>
<polygon points="23.8,188.6 48.1,196.1 74.8,204.1 104.2,212.7 136.4,221.9 172.0,231.7 211.2,242.3 207.7,244.8 168.5,234.0 133.0,224.0 100.8,214.6 71.5,205.9 44.9,197.7 20.6,190.1" fill="#5d0664"/>
<polygon points="22.7,189.1 47.1,196.7 73.7,204.7 103.1,213.4 135.3,222.6 170.8,232.5 210.0,243.1 206.6,245.6 167.4,234.8 131.9,224.7 99.7,215.3 70.4,206.5 43.8,198.3 19.6,190.6" fill="#5d0663"/>
<polygon points="21.7,189.6 46.0,197.2 72.6,205.3 101.9,214.0 134.1,223.3 169.7,233.3 208.9,243.9 205.4,246.4 166.2,235.5 130.7,225.3 98.5,215.9 69.3,207.0 42.7,198.8 18.5,191.0" fill="#5d0563"/>
<polygon points="20.6,190.1 44.9,197.7 71.5,205.9 100.8,214.6 133.0,224.0 168.5,234.0 207.7,244.8 204.3,247.2 165.0,236.2 129.5,226.0 97.4,216.4 68.2,207.6 41.7,199.3 17.5,191.5" fill="#5d0562"/>
<polygon points="19.6,190.6 43.8,198.3 70.4,206.5 99.7,215.3 131.9,224.7 167.4,234.8 206.6,245.6 203.1,247.9 163.8,236.9 128.4,226.6 96.2,217.0 67.1,208.1 40.6,199.7 16.4,191.9" fill="#5c0562"/>
<polygon points="18.5,191.0 42.7,198.8 69.3,207.0 98.5,215.9 130.7,225.3 166.2,235.5 205.4,246.4 201.9,248.7 162.7,237.6 127.2,227.2 95.1,217.6 65.9,208.6 39.5,200.2 15.3,192.4" fill="#5c0461"/>
<polygon points="17.5,191.5 41.7,199.3 68.2,207.6 97.4,216.4 129.5,226.0 165.0,236.2 204.3,247.2 200.7,249.5 161.5,238.3 126.0,227.9 93.9,218.2 64.8,209.1 38.4,200.7 14.3,192.8" fill="#5c0461"/>
<polygon points="16.4,191.9 40.6,199.7 67.1,208.1 96.2,217.0 128.4,226.6 163.8,236.9 203.1,247.9 199.5,250.2 160.3,239.0 124.8,228.5 92.8,218.7 63.7,209.6 37.2,201.2 13.2,193.2" fill="#5c0461"/>
<polygon points="15.3,192.4 39.5,200.2 65.9,208.6 95.1,217.6 127.2,227.2 162.7,237.6 201.9,248.7 198.3,251.0 159.1,239.7 123.7,229.1 91.6,219.3 62.5,210.1 36.1,201.6 12.1,193.7" fill="#5c0461"/>
<polygon points="14.3,192.8 38.4,200.7 64.8,209.1 93.9,218.2 126.0,227.9 161.5,238.3 200.7,249.5 197.1,251.7 157.9,240.3 122.5,229.7 90.4,219.8 61.4,210.6 35.0,202.1 11.0,194.1" fill="#5c0461"/>
<polygon points="13.2,193.2 37.2,201.2 63.7,209.6 92.8,218.7 124.8,228.5 160.3,239.0 199.5,250.2 195.9,252.5 156.7,241.0 121.3,230.3 89.3,220.4 60.2,211.1 33.9,202.5 9.9,194.5" fill="#5c0461"/>
<polygon points="12.1,193.7 36.1,201.6 62.5,210.1 91.6,219.3 123.7,229.1 159.1,239.7 198.3,251.0 194.7,253.2 155.5,241.7 120.1,230.9 88.1,220.9 59.1,211.6 32.8,203.0 8.8,194.9" fill="#5c0461"/>
<polygon points="11.0,194.1 35.0,202.1 61.4,210.6 90.4,219.8 122.5,229.7 157.9,240.3 197.1,251.7 193.5,254.0 154.3,242.3 118.9,231.5 86.9,221.5 57.9,212.1 31.6,203.4 7.7,195.3" fill="#5c0461"/>
<polygon points="9.9,194.5 33.9,202.5 60.2,211.1 89.3,220.4 121.3,230.3 156.7,241.0 195.9,252.5 192.3,254.7 153.0,243.0 117.7,232.1 85.7,222.0 56.8,212.6 30.5,203.8 6.6,195.7" fill="#5c0461"/>
<polygon points="8.8,194.9 32.8,203.0 59.1,211.6 88.1,220.9 120.1,230.9 155.5,241.7 194.7,253.2 191.1,255.4 151.8,243.6 116.4,232.7 84.5,222.5 55.6,213.1 29.4,204.3 5.5,196.1" fill="#5c0461"/>
<polygon points="7.7,195.3 31.6,203.4 57.9,212.1 86.9,221.5 118.9,231.5 154.3,242.3 193.5,254.0 189.8,256.1 150.6,244.3 115.2,233.3 83.3,223.0 54.4,213.5 28.2,204.7 4.4,196.5" fill="#5c0461"/>
<polygon points="6.6,195.7 30.5,203.8 56.8,212.6 85.7,222.0 117.7,232.1 153.0,243.0 192.3,254.7 188.6,256.9 149.3,244.9 114.0,233.8 82.1,223.6 53.3,214.0 27.1,205.1 3.3,196.9" fill="#5c0461"/>
<polygon points="5.5,196.1 29.4,204.3 55.6,213.1 84.5,222.5 116.4,232.7 151.8,243.6 191.1,255.4 187.3,257.6 148.1,245.6 112.8,234.4 80.9,224.1 52.1,214.5 25.9,205.6 2.2,197.2" fill="#5c0461"/>
<polygon points="4.4,196.5 28.2,204.7 54.4,213.5 83.3,223.0 115.2,233.3 150.6,244.3 189.8,256.1 186.1,258.3 146.8,246.2 111.5,235.0 79.7,224.6 50.9,214.9 24.8,206.0 1.1,197.6" fill="#5c0461"/>
<polygon points="3.3,196.9 27.1,205.1 53.3,214.0 82.1,223.6 114.0,233.8 149.3,244.9 188.6,256.9 184.8,259.0 145.6,246.8 110.3,235.6 78.5,225.1 49.7,215.4 23.6,206.4 -0.0,198.0" fill="#5c0461"/>
<polygon points="2.2,197.2 25.9,205.6 52.1,214.5 80.9,224.1 112.8,234.4 148.1,245.6 187.3,257.6 183.6,259.8 144.3,247.5 109.0,236.1 77.2,225.6 48.5,215.9 22.5,206.8 -1.2,198.4" fill="#5c0461"/>
<polygon points="1.1,197.6 24.8,206.0 50.9,214.9 79.7,224.6 111.5,235.0 146.8,246.2 186.1,258.3 182.3,260.5 143.1,248.1 107.8,236.7 76.0,226.1 47.3,216.3 21.3,207.2 -2.3,198.8" fill="#5c0461"/>
<polygon points="-0.0,198.0 23.6,206.4 49.7,215.4 78.5,225.1 110.3,235.6 145.6,246.8 184.8,259.0 181.0,261.2 141.8,248.8 106.5,237.3 74.8,226.6 46.1,216.8 20.1,207.6 -3.4,199.1" fill="#5c0461"/>
<polygon points="-1.2,198.4 22.5,206.8 48.5,215.9 77.2,225.6 109.0,236.1 144.3,247.5 183.6,259.8 179.7,261.9 140.5,249.4 105.3,237.8 73.5,227.1 44.9,217.2 19.0,208.0 -4.6,199.5" fill="#5c0461"/>
<polygon points="-2.3,198.8 21.3,207.2 47.3,216.3 76.0,226.1 107.8,236.7 143.1,248.1 182.3,260.5 179.7,261.9 140.5,249.4 105.3,237.8 73.5,227.1 44.9,217.2 19.0,208.0 -4.6,199.5" fill="#5c0461"/>
<polygon points="-3.4,199.1 20.1,207.6 46.1,216.8 74.8,226.6 106.5,237.3 141.8,248.8 181.0,261.2 179.7,261.9 140.5,249.4 105.3,237.8 73.5,227.1 44.9,217.2 19.0,208.0 -4.6,199.5" fill="#5c0461"/>
</g>
<line x1="377.4" y1="194.0" x2="364.9" y2="24.3" stroke="#dedede" stroke-width="0.5"/>
<line x1="377.4" y1="194.0" x2="501.3" y2="266.1" stroke="#dedede" stroke-width="0.5"/>
<line x1="404.1" y1="185.2" x2="394.9" y2="21.7" stroke="#dedede" stroke-width="0.5"/>
<line x1="404.1" y1="185.2" x2="529.5" y2="250.8" stroke="#dedede" stroke-width="0.5"/>
<line x1="428.8" y1="177.0" x2="422.3" y2="19.4" stroke="#dedede" stroke-width="0.5"/>
<line x1="428.8" y1="177.0" x2="554.9" y2="237.0" stroke="#dedede" stroke-width="0.5"/>
<line x1="451.5" y1="169.5" x2="447.5" y2="17.2" stroke="#dedede" stroke-width="0.5"/>
<line x1="451.5" y1="169.5" x2="577.8" y2="224.6" stroke="#dedede" stroke-width="0.5"/>
<line x1="472.6" y1="162.6" x2="470.7" y2="15.2" stroke="#dedede" stroke-width="0.5"/>
<line x1="472.6" y1="162.6" x2="598.6" y2="213.3" stroke="#dedede" stroke-width="0.5"/>
<line x1="492.2" y1="156.1" x2="492.0" y2="13.4" stroke="#dedede" stroke-width="0.5"/>
<line x1="492.2" y1="156.1" x2="617.6" y2="203.0" stroke="#dedede" stroke-width="0.5"/>
<line x1="506.6" y1="161.5" x2="507.7" y2="14.8" stroke="#dedede" stroke-width="0.5"/>
<line x1="506.6" y1="161.5" x2="380.3" y2="205.7" stroke="#dedede" stroke-width="0.5"/>
<line x1="521.9" y1="167.2" x2="524.4" y2="16.3" stroke="#dedede" stroke-width="0.5"/>
<line x1="521.9" y1="167.2" x2="394.9" y2="214.4" stroke="#dedede" stroke-width="0.5"/>
<line x1="538.0" y1="173.2" x2="542.2" y2="18.0" stroke="#dedede" stroke-width="0.5"/>
<line x1="538.0" y1="173.2" x2="410.6" y2="223.8" stroke="#dedede" stroke-width="0.5"/>
<line x1="555.2" y1="179.7" x2="561.3" y2="19.7" stroke="#dedede" stroke-width="0.5"/>
<line x1="555.2" y1="179.7" x2="427.6" y2="233.9" stroke="#dedede" stroke-width="0.5"/>
<line x1="573.5" y1="186.5" x2="581.7" y2="21.6" stroke="#dedede" stroke-width="0.5"/>
<line x1="573.5" y1="186.5" x2="445.9" y2="244.8" stroke="#dedede" stroke-width="0.5"/>
<line x1="593.0" y1="193.8" x2="603.6" y2="23.6" stroke="#dedede" stroke-width="0.5"/>
<line x1="593.0" y1="193.8" x2="465.8" y2="256.7" stroke="#dedede" stroke-width="0.5"/>
<line x1="613.9" y1="201.6" x2="627.1" y2="25.7" stroke="#dedede" stroke-width="0.5"/>
<line x1="613.9" y1="201.6" x2="487.5" y2="269.6" stroke="#dedede" stroke-width="0.5"/>
<line x1="492.2" y1="156.1" x2="375.2" y2="194.8" stroke="#dedede" stroke-width="0.5"/>
<line x1="492.2" y1="156.1" x2="613.9" y2="201.6" stroke="#dedede" stroke-width="0.5"/>
<line x1="492.2" y1="152.7" x2="366.6" y2="196.1" stroke="#b8b8b8" stroke-width="0.5"/>
<line x1="492.2" y1="152.7" x2="614.6" y2="197.7" stroke="#b8b8b8" stroke-width="0.5"/>
<line x1="492.2" y1="127.3" x2="364.2" y2="165.5" stroke="#dedede" stroke-width="0.5"/>
<line x1="492.2" y1="127.3" x2="617.0" y2="166.9" stroke="#dedede" stroke-width="0.5"/>
<line x1="492.1" y1="101.1" x2="361.7" y2="133.6" stroke="#dedede" stroke-width="0.5"/>
<line x1="492.1" y1="101.1" x2="619.4" y2="134.9" stroke="#dedede" stroke-width="0.5"/>
<line x1="492.1" y1="74.1" x2="359.2" y2="100.5" stroke="#dedede" stroke-width="0.5"/>
<line x1="492.1" y1="74.1" x2="621.9" y2="101.6" stroke="#dedede" stroke-width="0.5"/>
<line x1="492.1" y1="46.2" x2="356.5" y2="66.1" stroke="#dedede" stroke-width="0.5"/>
<line x1="492.1" y1="46.2" x2="624.5" y2="66.9" stroke="#dedede" stroke-width="0.5"/>
<line x1="492.0" y1="17.3" x2="353.8" y2="30.2" stroke="#dedede" stroke-width="0.5"/>
<line x1="492.0" y1="17.3" x2="627.2" y2="30.8" stroke="#dedede" stroke-width="0.5"/>
<mask id="cb2" maskUnits="userSpaceOnUse" x="0" y="0" width="685" height="278"><polygon fill="#fff" points="374.90,190.91 377.28,189.68 379.64,188.38 381.98,187.00 384.30,185.52 386.59,183.94 388.87,182.24 391.11,180.39 393.34,178.37 395.53,176.15 397.71,173.72 399.85,171.03 401.97,168.06 404.06,164.79 406.12,161.17 408.16,157.19 410.17,152.82 412.15,148.05 414.11,142.87 416.05,137.30 417.97,131.35 419.87,125.07 421.76,118.51 423.64,111.74 425.52,104.84 427.39,97.91 429.27,91.03 431.16,84.31 433.05,77.82 434.96,71.65 436.88,65.84 438.81,60.45 440.75,55.49 442.70,50.98 444.65,46.92 446.62,43.28 448.59,40.04 450.56,37.18 452.53,34.67 454.50,32.46 456.46,30.54 458.42,28.86 460.38,27.40 462.32,26.12 464.26,25.01 466.19,24.04 468.11,23.19 470.02,22.44 471.92,21.78 473.80,21.20 475.68,20.68 477.54,20.22 479.40,19.80 481.24,19.43 483.07,19.09 484.88,18.77 486.69,18.48 488.48,18.21 490.27,17.96 492.04,17.72 493.76,17.92 495.49,18.13 497.23,18.34 498.99,18.55 500.76,18.76 502.54,18.99 504.33,19.21 506.13,19.44 507.95,19.68 509.78,19.92 511.62,20.17 513.48,20.42 515.35,20.68 517.23,20.95 519.12,21.23 521.03,21.51 522.95,21.81 524.88,22.11 526.83,22.42 528.80,22.75 530.77,23.08 532.76,23.43 534.77,23.79 536.78,24.16 538.82,24.55 540.86,24.96 542.92,25.38 545.00,25.82 547.09,26.28 549.20,26.77 551.32,27.27 553.45,27.80 555.60,28.35 557.77,28.93 559.94,29.54 562.14,30.18 564.35,30.85 566.57,31.56 568.81,32.31 571.06,33.10 573.33,33.92 575.61,34.80 577.91,35.72 580.22,36.69 582.55,37.72 584.89,38.80 587.24,39.94 589.61,41.15 591.99,42.42 594.38,43.76 596.79,45.18 599.21,46.67 601.64,48.24 604.08,49.90 606.54,51.64 609.00,53.48 611.48,55.41 613.97,57.43 616.46,59.55 614.51,63.97 612.51,68.81 610.49,74.08 608.43,79.78 606.34,85.87 604.22,92.33 602.09,99.11 599.93,106.15 597.76,113.37 595.59,120.69 593.42,128.04 591.24,135.33 589.08,142.48 586.93,149.42 584.79,156.10 582.66,162.46 580.56,168.48 578.47,174.12 576.39,179.39 574.33,184.27 572.28,188.79 570.24,192.95 568.21,196.78 566.18,200.29 564.16,203.53 562.14,206.51 560.11,209.26 558.09,211.80 556.05,214.16 554.02,216.36 551.97,218.42 549.91,220.35 547.84,222.19 545.76,223.93 543.67,225.59 541.56,227.19 539.44,228.73 537.30,230.23 535.14,231.68 532.97,233.11 530.78,234.50 528.57,235.88 526.35,237.24 524.10,238.59 521.84,239.93 519.55,241.26 517.25,242.59 514.93,243.92 512.58,245.25 510.21,246.58 507.83,247.91 505.42,249.25 502.99,250.59 500.53,251.94 498.05,253.30 495.55,254.67 493.03,256.05 490.48,257.44 487.91,258.84 485.45,257.40 483.02,255.98 480.61,254.57 478.22,253.17 475.86,251.79 473.52,250.42 471.20,249.06 468.90,247.72 466.63,246.38 464.37,245.06 462.14,243.75 459.93,242.45 457.74,241.17 455.57,239.89 453.42,238.63 451.28,237.37 449.17,236.13 447.08,234.90 445.01,233.68 442.95,232.47 440.91,231.27 438.89,230.07 436.89,228.89 434.91,227.72 432.94,226.55 430.99,225.40 429.06,224.25 427.14,223.12 425.24,221.99 423.36,220.86 421.49,219.75 419.64,218.65 417.80,217.55 415.98,216.46 414.18,215.38 412.39,214.30 410.61,213.23 408.85,212.17 407.10,211.11 405.37,210.06 403.65,209.02 401.95,207.98 400.26,206.94 398.58,205.92 396.91,204.89 395.26,203.87 393.62,202.86 392.00,201.85 390.38,200.84 388.78,199.84 387.19,198.84 385.62,197.84 384.05,196.85 382.50,195.86 380.95,194.87 379.42,193.88 377.90,192.89 376.39,191.90"/></mask>
<g mask="url(#cb2)">
<polygon points="476.4,16.8 506.4,18.0 538.1,19.3 571.8,20.5 607.4,21.8 645.2,23.1 685.0,24.5 683.0,24.9 643.0,23.6 605.1,22.2 569.4,20.9 535.7,19.6 503.8,18.4 473.9,17.1" fill="#fff300"/>
<polygon points="475.6,16.9 505.5,18.1 537.3,19.4 571.0,20.7 606.7,22.0 644.4,23.3 684.4,24.6 682.3,25.1 642.2,23.7 604.4,22.4 568.6,21.0 534.8,19.8 503.0,18.5 473.0,17.3" fill="#fff300"/>
<polygon points="474.7,17.0 504.7,18.3 536.5,19.5 570.2,20.8 605.9,22.1 643.7,23.4 683.7,24.8 681.6,25.2 641.5,23.9 603.6,22.5 567.8,21.2 534.0,19.9 502.2,18.6 472.1,17.4" fill="#fff300"/>
<polygon points="473.9,17.1 503.8,18.4 535.7,19.6 569.4,20.9 605.1,22.2 643.0,23.6 683.0,24.9 680.9,25.4 640.8,24.0 602.8,22.7 567.0,21.3 533.2,20.0 501.3,18.7 471.3,17.5" fill="#fff300"/>
<polygon points="473.0,17.3 503.0,18.5 534.8,19.8 568.6,21.0 604.4,22.4 642.2,23.7 682.3,25.1 680.2,25.6 640.0,24.2 602.0,22.8 566.2,21.5 532.3,20.2 500.5,18.9 470.4,17.6" fill="#fff300"/>
<polygon points="472.1,17.4 502.2,18.6 534.0,19.9 567.8,21.2 603.6,22.5 641.5,23.9 681.6,25.2 679.5,25.7 639.3,24.3 601.2,23.0 565.4,21.6 531.5,20.3 499.6,19.0 469.6,17.7" fill="#fff300"/>
<polygon points="471.3,17.5 501.3,18.7 533.2,20.0 567.0,21.3 602.8,22.7 640.8,24.0 680.9,25.4 678.8,25.9 638.5,24.5 600.5,23.1 564.5,21.8 530.7,20.4 498.8,19.1 468.7,17.9" fill="#fff300"/>
<polygon points="470.4,17.6 500.5,18.9 532.3,20.2 566.2,21.5 602.0,22.8 640.0,24.2 680.2,25.6 678.1,26.1 637.8,24.7 599.7,23.3 563.7,21.9 529.8,20.6 497.9,19.3 467.8,18.0" fill="#fff300"/>
<polygon points="469.6,17.7 499.6,19.0 531.5,20.3 565.4,21.6 601.2,23.0 639.3,24.3 679.5,25.7 677.4,26.3 637.0,24.9 598.9,23.5 562.9,22.1 529.0,20.7 497.0,19.4 467.0,18.1" fill="#fff300"/>
<polygon points="468.7,17.9 498.8,19.1 530.7,20.4 564.5,21.8 600.5,23.1 638.5,24.5 678.8,25.9 676.7,26.5 636.2,25.0 598.1,23.6 562.1,22.3 528.1,20.9 496.2,19.6 466.1,18.3" fill="#fff300"/>
<polygon points="467.8,18.0 497.9,19.3 529.8,20.6 563.7,21.9 599.7,23.3 637.8,24.7 678.1,26.1 675.9,26.7 635.5,25.2 597.3,23.8 561.2,22.4 527.3,21.1 495.3,19.7 465.2,18.4" fill="#fff300"/>
<polygon points="467.0,18.1 497.0,19.4 529.0,20.7 562.9,22.1 598.9,23.5 637.0,24.9 677.4,26.3 675.2,26.9 634.7,25.4 596.5,24.0 560.4,22.6 526.4,21.2 494.4,19.9 464.3,18.6" fill="#fff300"/>
<polygon points="466.1,18.3 496.2,19.6 528.1,20.9 562.1,22.3 598.1,23.6 636.2,25.0 676.7,26.5 674.5,27.1 633.9,25.7 595.7,24.2 559.6,22.8 525.6,21.4 493.6,20.1 463.5,18.8" fill="#fff300"/>
<polygon points="465.2,18.4 495.3,19.7 527.3,21.1 561.2,22.4 597.3,23.8 635.5,25.2 675.9,26.7 673.8,27.3 633.2,25.9 594.8,24.4 558.7,23.0 524.7,21.6 492.7,20.3 462.6,18.9" fill="#fff300"/>
<polygon points="464.3,18.6 494.4,19.9 526.4,21.2 560.4,22.6 596.5,24.0 634.7,25.4 675.2,26.9 673.0,27.6 632.4,26.1 594.0,24.6 557.9,23.2 523.9,21.8 491.8,20.5 461.7,19.1" fill="#fff300"/>
<polygon points="463.5,18.8 493.6,20.1 525.6,21.4 559.6,22.8 595.7,24.2 633.9,25.7 674.5,27.1 672.3,27.8 631.6,26.3 593.2,24.9 557.0,23.4 523.0,22.0 490.9,20.7 460.8,19.3" fill="#fff300"/>
<polygon points="462.6,18.9 492.7,20.3 524.7,21.6 558.7,23.0 594.8,24.4 633.2,25.9 673.8,27.3 671.6,28.1 630.8,26.6 592.4,25.1 556.2,23.7 522.1,22.3 490.1,20.9 459.9,19.5" fill="#fff300"/>
<polygon points="461.7,19.1 491.8,20.5 523.9,21.8 557.9,23.2 594.0,24.6 632.4,26.1 673.0,27.6 670.8,28.4 630.0,26.9 591.6,25.4 555.3,23.9 521.3,22.5 489.2,21.1 459.0,19.7" fill="#fff300"/>
<polygon points="460.8,19.3 490.9,20.7 523.0,22.0 557.0,23.4 593.2,24.9 631.6,26.3 672.3,27.8 670.1,28.7 629.2,27.1 590.7,25.6 554.5,24.2 520.4,22.7 488.3,21.3 458.1,20.0" fill="#fff300"/>
<polygon points="459.9,19.5 490.1,20.9 522.1,22.3 556.2,23.7 592.4,25.1 630.8,26.6 671.6,28.1 669.3,29.0 628.4,27.4 589.9,25.9 553.6,24.4 519.5,23.0 487.4,21.6 457.2,20.2" fill="#fff300"/>
<polygon points="459.0,19.7 489.2,21.1 521.3,22.5 555.3,23.9 591.6,25.4 630.0,26.9 670.8,28.4 668.6,29.3 627.6,27.7 589.1,26.2 552.8,24.7 518.6,23.3 486.5,21.8 456.3,20.5" fill="#fff300"/>
<polygon points="458.1,20.0 488.3,21.3 520.4,22.7 554.5,24.2 590.7,25.6 629.2,27.1 670.1,28.7 667.8,29.6 626.8,28.1 588.2,26.5 551.9,25.0 517.7,23.5 485.6,22.1 455.4,20.7" fill="#fff300"/>
<polygon points="457.2,20.2 487.4,21.6 519.5,23.0 553.6,24.4 589.9,25.9 628.4,27.4 669.3,29.0 667.0,30.0 626.0,28.4 587.4,26.9 551.0,25.3 516.8,23.9 484.7,22.4 454.5,21.0" fill="#fff300"/>
<polygon points="456.3,20.5 486.5,21.8 518.6,23.3 552.8,24.7 589.1,26.2 627.6,27.7 668.6,29.3 666.2,30.4 625.2,28.8 586.5,27.2 550.2,25.7 516.0,24.2 483.8,22.7 453.6,21.3" fill="#fff300"/>
<polygon points="455.4,20.7 485.6,22.1 517.7,23.5 551.9,25.0 588.2,26.5 626.8,28.1 667.8,29.6 665.5,30.8 624.4,29.2 585.7,27.6 549.3,26.0 515.1,24.5 482.9,23.0 452.7,21.6" fill="#fff300"/>
<polygon points="454.5,21.0 484.7,22.4 516.8,23.9 551.0,25.3 587.4,26.9 626.0,28.4 667.0,30.0 664.7,31.2 623.6,29.6 584.8,28.0 548.4,26.4 514.2,24.9 482.0,23.4 451.8,22.0" fill="#fff300"/>
<polygon points="453.6,21.3 483.8,22.7 516.0,24.2 550.2,25.7 586.5,27.2 625.2,28.8 666.2,30.4 663.9,31.6 622.7,30.0 584.0,28.4 547.5,26.8 513.3,25.3 481.1,23.8 450.9,22.3" fill="#fff300"/>
<polygon points="452.7,21.6 482.9,23.0 515.1,24.5 549.3,26.0 585.7,27.6 624.4,29.2 665.5,30.8 663.1,32.1 621.9,30.5 583.1,28.8 546.6,27.2 512.4,25.7 480.2,24.2 450.0,22.7" fill="#fff300"/>
<polygon points="451.8,22.0 482.0,23.4 514.2,24.9 548.4,26.4 584.8,28.0 623.6,29.6 664.7,31.2 662.3,32.6 621.1,30.9 582.2,29.3 545.8,27.7 511.5,26.1 479.3,24.6 449.0,23.1" fill="#fff300"/>
<polygon points="450.9,22.3 481.1,23.8 513.3,25.3 547.5,26.8 584.0,28.4 622.7,30.0 663.9,31.6 661.5,33.2 620.2,31.5 581.4,29.8 544.9,28.2 510.6,26.6 478.4,25.0 448.1,23.5" fill="#fff300"/>
<polygon points="450.0,22.7 480.2,24.2 512.4,25.7 546.6,27.2 583.1,28.8 621.9,30.5 663.1,32.1 660.7,33.7 619.4,32.0 580.5,30.3 544.0,28.7 509.6,27.1 477.4,25.5 447.2,24.0" fill="#fff300"/>
<polygon points="449.0,23.1 479.3,24.6 511.5,26.1 545.8,27.7 582.2,29.3 621.1,30.9 662.3,32.6 659.9,34.3 618.5,32.6 579.6,30.9 543.1,29.2 508.7,27.6 476.5,26.0 446.3,24.5" fill="#fff300"/>
<polygon points="448.1,23.5 478.4,25.0 510.6,26.6 544.9,28.2 581.4,29.8 620.2,31.5 661.5,33.2 659.1,35.0 617.7,33.2 578.7,31.5 542.2,29.8 507.8,28.2 475.6,26.6 445.4,25.0" fill="#fff300"/>
<polygon points="447.2,24.0 477.4,25.5 509.6,27.1 544.0,28.7 580.5,30.3 619.4,32.0 660.7,33.7 658.2,35.7 616.8,33.9 577.8,32.1 541.2,30.4 506.9,28.8 474.7,27.1 444.4,25.6" fill="#fff400"/>
<polygon points="446.3,24.5 476.5,26.0 508.7,27.6 543.1,29.2 579.6,30.9 618.5,32.6 659.9,34.3 657.4,36.4 615.9,34.6 576.9,32.8 540.3,31.1 506.0,29.4 473.7,27.8 443.5,26.2" fill="#fff400"/>
<polygon points="445.4,25.0 475.6,26.6 507.8,28.2 542.2,29.8 578.7,31.5 617.7,33.2 659.1,35.0 656.5,37.2 615.0,35.3 576.0,33.5 539.4,31.8 505.0,30.1 472.8,28.4 442.6,26.8" fill="#fff400"/>
<polygon points="444.4,25.6 474.7,27.1 506.9,28.8 541.2,30.4 577.8,32.1 616.8,33.9 658.2,35.7 655.7,38.0 614.2,36.2 575.1,34.3 538.5,32.5 504.1,30.8 471.9,29.1 441.6,27.5" fill="#fdf400"/>
<polygon points="443.5,26.2 473.7,27.8 506.0,29.4 540.3,31.1 576.9,32.8 615.9,34.6 657.4,36.4 654.8,38.9 613.3,37.0 574.2,35.2 537.6,33.3 503.2,31.6 470.9,29.9 440.7,28.2" fill="#faf400"/>
<polygon points="442.6,26.8 472.8,28.4 505.0,30.1 539.4,31.8 576.0,33.5 615.0,35.3 656.5,37.2 654.0,39.9 612.4,37.9 573.3,36.0 536.6,34.2 502.3,32.4 470.0,30.7 439.8,29.0" fill="#f7f400"/>
<polygon points="441.6,27.5 471.9,29.1 504.1,30.8 538.5,32.5 575.1,34.3 614.2,36.2 655.7,38.0 653.1,40.9 611.5,38.9 572.4,37.0 535.7,35.1 501.3,33.3 469.1,31.5 438.8,29.8" fill="#f4f300"/>
<polygon points="440.7,28.2 470.9,29.9 503.2,31.6 537.6,33.3 574.2,35.2 613.3,37.0 654.8,38.9 652.2,41.9 610.6,39.9 571.5,38.0 534.8,36.1 500.4,34.3 468.1,32.5 437.9,30.7" fill="#f0f300"/>
<polygon points="439.8,29.0 470.0,30.7 502.3,32.4 536.6,34.2 573.3,36.0 612.4,37.9 654.0,39.9 651.3,43.1 609.6,41.1 570.5,39.1 533.8,37.1 499.4,35.3 467.2,33.4 437.0,31.7" fill="#ecf300"/>
<polygon points="438.8,29.8 469.1,31.5 501.3,33.3 535.7,35.1 572.4,37.0 611.5,38.9 653.1,40.9 650.4,44.3 608.7,42.2 569.6,40.2 532.9,38.3 498.5,36.3 466.2,34.5 436.0,32.7" fill="#e8f200"/>
<polygon points="437.9,30.7 468.1,32.5 500.4,34.3 534.8,36.1 571.5,38.0 610.6,39.9 652.2,41.9 649.5,45.6 607.8,43.5 568.7,41.4 531.9,39.4 497.5,37.5 465.3,35.6 435.1,33.8" fill="#e3f200"/>
<polygon points="437.0,31.7 467.2,33.4 499.4,35.3 533.8,37.1 570.5,39.1 609.6,41.1 651.3,43.1 648.6,47.0 606.9,44.8 567.7,42.7 531.0,40.7 496.6,38.7 464.4,36.8 434.2,34.9" fill="#ddf100"/>
<polygon points="436.0,32.7 466.2,34.5 498.5,36.3 532.9,38.3 569.6,40.2 608.7,42.2 650.4,44.3 647.6,48.5 605.9,46.3 566.7,44.1 530.0,42.0 495.6,40.0 463.4,38.0 433.2,36.1" fill="#d7f000"/>
<polygon points="435.1,33.8 465.3,35.6 497.5,37.5 531.9,39.4 568.7,41.4 607.8,43.5 649.5,45.6 646.7,50.0 605.0,47.8 565.8,45.6 529.1,43.5 494.7,41.4 462.5,39.4 432.3,37.4" fill="#d0ef00"/>
<polygon points="434.2,34.9 464.4,36.8 496.6,38.7 531.0,40.7 567.7,42.7 606.9,44.8 648.6,47.0 645.7,51.7 604.0,49.4 564.8,47.2 528.1,45.0 493.7,42.9 461.5,40.8 431.4,38.8" fill="#c9ee00"/>
<polygon points="433.2,36.1 463.4,38.0 495.6,40.0 530.0,42.0 566.7,44.1 605.9,46.3 647.6,48.5 644.8,53.5 603.0,51.1 563.9,48.8 527.1,46.6 492.8,44.4 460.6,42.3 430.4,40.3" fill="#c1ed00"/>
<polygon points="432.3,37.4 462.5,39.4 494.7,41.4 529.1,43.5 565.8,45.6 605.0,47.8 646.7,50.0 643.8,55.3 602.0,52.9 562.9,50.6 526.2,48.3 491.8,46.1 459.6,43.9 429.5,41.8" fill="#b8eb00"/>
<polygon points="431.4,38.8 461.5,40.8 493.7,42.9 528.1,45.0 564.8,47.2 604.0,49.4 645.7,51.7 642.8,57.3 601.1,54.8 561.9,52.4 525.2,50.1 490.8,47.8 458.7,45.6 428.6,43.5" fill="#afea09"/>
<polygon points="430.4,40.3 460.6,42.3 492.8,44.4 527.1,46.6 563.9,48.8 603.0,51.1 644.8,53.5 641.8,59.4 600.1,56.8 560.9,54.4 524.2,52.0 489.9,49.6 457.7,47.4 427.7,45.2" fill="#a4e915"/>
<polygon points="429.5,41.8 459.6,43.9 491.8,46.1 526.2,48.3 562.9,50.6 602.0,52.9 643.8,55.3 640.8,61.6 599.1,59.0 559.9,56.4 523.2,54.0 488.9,51.6 456.8,49.3 426.7,47.0" fill="#99e71f"/>
<polygon points="428.6,43.5 458.7,45.6 490.8,47.8 525.2,50.1 561.9,52.4 601.1,54.8 642.8,57.3 639.8,63.9 598.0,61.2 558.9,58.6 522.3,56.1 488.0,53.6 455.9,51.3 425.8,49.0" fill="#8de528"/>
<polygon points="427.7,45.2 457.7,47.4 489.9,49.6 524.2,52.0 560.9,54.4 600.1,56.8 641.8,59.4 638.8,66.3 597.0,63.6 557.9,60.9 521.3,58.3 487.0,55.8 454.9,53.3 424.9,51.0" fill="#80e330"/>
<polygon points="426.7,47.0 456.8,49.3 488.9,51.6 523.2,54.0 559.9,56.4 599.1,59.0 640.8,61.6 637.7,68.8 596.0,66.0 556.9,63.3 520.3,60.6 486.0,58.0 454.0,55.5 424.0,53.1" fill="#71e037"/>
<polygon points="425.8,49.0 455.9,51.3 488.0,53.6 522.3,56.1 558.9,58.6 598.0,61.2 639.8,63.9 636.7,71.5 595.0,68.6 555.9,65.8 519.3,63.0 485.1,60.4 453.0,57.8 423.1,55.3" fill="#5fde3f"/>
<polygon points="424.9,51.0 454.9,53.3 487.0,55.8 521.3,58.3 557.9,60.9 597.0,63.6 638.8,66.3 635.6,74.3 593.9,71.3 554.8,68.4 518.3,65.6 484.1,62.9 452.1,60.2 422.2,57.7" fill="#4adc46"/>
<polygon points="424.0,53.1 454.0,55.5 486.0,58.0 520.3,60.6 556.9,63.3 596.0,66.0 637.7,68.8 634.5,77.2 592.9,74.1 553.8,71.1 517.3,68.2 483.1,65.4 451.2,62.7 421.3,60.1" fill="#2fd84c"/>
<polygon points="423.1,55.3 453.0,57.8 485.1,60.4 519.3,63.0 555.9,65.8 595.0,68.6 636.7,71.5 633.4,80.2 591.8,77.0 552.8,74.0 516.3,71.0 482.1,68.1 450.2,65.3 420.4,62.6" fill="#00d151"/>
<polygon points="422.2,57.7 452.1,60.2 484.1,62.9 518.3,65.6 554.8,68.4 593.9,71.3 635.6,74.3 632.4,83.3 590.7,80.1 551.8,76.9 515.3,73.8 481.2,70.9 449.3,68.0 419.5,65.2" fill="#00cc56"/>
<polygon points="421.3,60.1 451.2,62.7 483.1,65.4 517.3,68.2 553.8,71.1 592.9,74.1 634.5,77.2 631.2,86.6 589.7,83.2 550.7,80.0 514.3,76.8 480.2,73.7 448.4,70.8 418.6,67.9" fill="#00c65b"/>
<polygon points="420.4,62.6 450.2,65.3 482.1,68.1 516.3,71.0 552.8,74.0 591.8,77.0 633.4,80.2 630.1,89.9 588.6,86.5 549.7,83.1 513.3,79.9 479.2,76.7 447.4,73.7 417.7,70.7" fill="#00c05f"/>
<polygon points="419.5,65.2 449.3,68.0 481.2,70.9 515.3,73.8 551.8,76.9 590.7,80.1 632.4,83.3 629.0,93.3 587.5,89.8 548.6,86.3 512.3,83.0 478.3,79.7 446.5,76.6 416.8,73.6" fill="#00ba63"/>
<polygon points="418.6,67.9 448.4,70.8 480.2,73.7 514.3,76.8 550.7,80.0 589.7,83.2 631.2,86.6 627.9,96.9 586.4,93.2 547.6,89.7 511.3,86.2 477.3,82.9 445.6,79.7 415.9,76.5" fill="#00b467"/>
<polygon points="417.7,70.7 447.4,73.7 479.2,76.7 513.3,79.9 549.7,83.1 588.6,86.5 630.1,89.9 626.7,100.5 585.3,96.7 546.5,93.1 510.2,89.5 476.3,86.1 444.7,82.8 415.0,79.6" fill="#00af6a"/>
<polygon points="416.8,73.6 446.5,76.6 478.3,79.7 512.3,83.0 548.6,86.3 587.5,89.8 629.0,93.3 625.6,104.2 584.2,100.3 545.5,96.5 509.2,92.9 475.4,89.3 443.7,85.9 414.2,82.6" fill="#00a96d"/>
<polygon points="415.9,76.5 445.6,79.7 477.3,82.9 511.3,86.2 547.6,89.7 586.4,93.2 627.9,96.9 624.4,107.9 583.1,103.9 544.4,100.0 508.2,96.3 474.4,92.7 442.8,89.2 413.3,85.8" fill="#00a471"/>
<polygon points="415.0,79.6 444.7,82.8 476.3,86.1 510.2,89.5 546.5,93.1 585.3,96.7 626.7,100.5 623.3,111.7 582.0,107.6 543.3,103.6 507.2,99.8 473.5,96.0 441.9,92.4 412.4,88.9" fill="#009f74"/>
<polygon points="414.2,82.6 443.7,85.9 475.4,89.3 509.2,92.9 545.5,96.5 584.2,100.3 625.6,104.2 622.1,115.5 580.9,111.3 542.3,107.2 506.2,103.3 472.5,99.4 441.0,95.7 411.6,92.2" fill="#009a76"/>
<polygon points="413.3,85.8 442.8,89.2 474.4,92.7 508.2,96.3 544.4,100.0 583.1,103.9 624.4,107.9 621.0,119.4 579.8,115.1 541.2,110.9 505.2,106.8 471.5,102.9 440.1,99.1 410.7,95.4" fill="#009578"/>
<polygon points="412.4,88.9 441.9,92.4 473.5,96.0 507.2,99.8 543.3,103.6 582.0,107.6 623.3,111.7 619.8,123.3 578.7,118.9 540.2,114.5 504.2,110.4 470.6,106.3 439.2,102.4 409.8,98.6" fill="#00907a"/>
<polygon points="411.6,92.2 441.0,95.7 472.5,99.4 506.2,103.3 542.3,107.2 580.9,111.3 622.1,115.5 618.7,127.2 577.5,122.6 539.1,118.2 503.2,113.9 469.6,109.8 438.2,105.8 408.9,101.9" fill="#008b7b"/>
<polygon points="410.7,95.4 440.1,99.1 471.5,102.9 505.2,106.8 541.2,110.9 579.8,115.1 621.0,119.4 617.5,131.1 576.4,126.4 538.0,121.9 502.2,117.5 468.6,113.2 437.3,109.1 408.1,105.1" fill="#00867c"/>
<polygon points="409.8,98.6 439.2,102.4 470.6,106.3 504.2,110.4 540.2,114.5 578.7,118.9 619.8,123.3 616.3,135.0 575.3,130.2 537.0,125.5 501.1,121.0 467.7,116.6 436.4,112.4 407.2,108.4" fill="#00827d"/>
<polygon points="408.9,101.9 438.2,105.8 469.6,109.8 503.2,113.9 539.1,118.2 577.5,122.6 618.7,127.2 615.2,138.8 574.2,133.9 535.9,129.1 500.1,124.5 466.7,120.0 435.5,115.7 406.3,111.6" fill="#007d7e"/>
<polygon points="408.1,105.1 437.3,109.1 468.6,113.2 502.2,117.5 538.0,121.9 576.4,126.4 617.5,131.1 614.0,142.6 573.1,137.6 534.9,132.7 499.1,128.0 465.7,123.4 434.6,119.0 405.5,114.7" fill="#00797f"/>
<polygon points="407.2,108.4 436.4,112.4 467.7,116.6 501.1,121.0 537.0,125.5 575.3,130.2 616.3,135.0 612.9,146.4 572.0,141.2 533.8,136.2 498.1,131.4 464.8,126.7 433.7,122.2 404.6,117.9" fill="#007480"/>
<polygon points="406.3,111.6 435.5,115.7 466.7,120.0 500.1,124.5 535.9,129.1 574.2,133.9 615.2,138.8 611.7,150.1 570.9,144.8 532.7,139.7 497.1,134.8 463.8,130.0 432.7,125.4 403.7,120.9" fill="#007081"/>
<polygon points="405.5,114.7 434.6,119.0 465.7,123.4 499.1,128.0 534.9,132.7 573.1,137.6 614.0,142.6 610.6,153.7 569.8,148.3 531.7,143.1 496.1,138.1 462.9,133.2 431.8,128.5 402.8,124.0" fill="#006c82"/>
<polygon points="404.6,117.9 433.7,122.2 464.8,126.7 498.1,131.4 533.8,136.2 572.0,141.2 612.9,146.4 609.5,157.2 568.7,151.7 530.6,146.4 495.1,141.3 461.9,136.3 430.9,131.5 402.0,126.9" fill="#006883"/>
<polygon points="403.7,120.9 432.7,125.4 463.8,130.0 497.1,134.8 532.7,139.7 570.9,144.8 611.7,150.1 608.3,160.7 567.6,155.1 529.6,149.7 494.1,144.4 460.9,139.4 430.0,134.5 401.1,129.8" fill="#006483"/>
<polygon points="402.8,124.0 431.8,128.5 462.9,133.2 496.1,138.1 531.7,143.1 569.8,148.3 610.6,153.7 607.2,164.1 566.5,158.4 528.5,152.9 493.1,147.5 459.9,142.4 429.0,137.4 400.2,132.6" fill="#006184"/>
<polygon points="402.0,126.9 430.9,131.5 461.9,136.3 495.1,141.3 530.6,146.4 568.7,151.7 609.5,157.2 606.1,167.4 565.4,161.6 527.5,155.9 492.0,150.5 459.0,145.2 428.1,140.2 399.3,135.3" fill="#005d85"/>
<polygon points="401.1,129.8 430.0,134.5 460.9,139.4 494.1,144.4 529.6,149.7 567.6,155.1 608.3,160.7 605.0,170.6 564.4,164.6 526.4,158.9 491.0,153.4 458.0,148.0 427.2,142.9 398.4,137.9" fill="#005a86"/>
<polygon points="400.2,132.6 429.0,137.4 459.9,142.4 493.1,147.5 528.5,152.9 566.5,158.4 607.2,164.1 603.9,173.6 563.3,167.6 525.4,161.8 490.0,156.2 457.0,150.8 426.2,145.5 397.5,140.5" fill="#165688"/>
<polygon points="399.3,135.3 428.1,140.2 459.0,145.2 492.0,150.5 527.5,155.9 565.4,161.6 606.1,167.4 602.7,176.6 562.2,170.5 524.3,164.6 489.0,158.9 456.0,153.4 425.3,148.1 396.6,142.9" fill="#225389"/>
<polygon points="398.4,137.9 427.2,142.9 458.0,148.0 491.0,153.4 526.4,158.9 564.4,164.6 605.0,170.6 601.7,179.5 561.1,173.3 523.3,167.3 488.0,161.5 455.1,155.9 424.3,150.5 395.7,145.3" fill="#2c508a"/>
<polygon points="397.5,140.5 426.2,145.5 457.0,150.8 490.0,156.2 525.4,161.8 563.3,167.6 603.9,173.6 600.6,182.3 560.1,176.0 522.3,169.9 487.0,164.0 454.1,158.3 423.4,152.8 394.7,147.6" fill="#334c8b"/>
<polygon points="396.6,142.9 425.3,148.1 456.0,153.4 489.0,158.9 524.3,164.6 562.2,170.5 602.7,176.6 599.5,185.0 559.0,178.6 521.2,172.4 486.0,166.4 453.1,160.6 422.4,155.1 393.8,149.8" fill="#3a498d"/>
<polygon points="395.7,145.3 424.3,150.5 455.1,155.9 488.0,161.5 523.3,167.3 561.1,173.3 601.7,179.5 598.4,187.5 557.9,181.0 520.2,174.8 484.9,168.7 452.1,162.9 421.4,157.3 392.9,151.8" fill="#40468e"/>
<polygon points="394.7,147.6 423.4,152.8 454.1,158.3 487.0,164.0 522.3,169.9 560.1,176.0 600.6,182.3 597.3,190.0 556.9,183.4 519.1,177.1 483.9,170.9 451.1,165.0 420.5,159.3 391.9,153.9" fill="#45438e"/>
<polygon points="393.8,149.8 422.4,155.1 453.1,160.6 486.0,166.4 521.2,172.4 559.0,178.6 599.5,185.0 596.3,192.4 555.8,185.7 518.1,179.3 482.9,173.1 450.1,167.1 419.5,161.3 391.0,155.8" fill="#483f8c"/>
<polygon points="392.9,151.8 421.4,157.3 452.1,162.9 484.9,168.7 520.2,174.8 557.9,181.0 598.4,187.5 595.2,194.6 554.7,187.9 517.0,181.4 481.9,175.1 449.1,169.0 418.5,163.2 390.0,157.6" fill="#4c3c8a"/>
<polygon points="391.9,153.9 420.5,159.3 451.1,165.0 483.9,170.9 519.1,177.1 556.9,183.4 597.3,190.0 594.1,196.8 553.7,190.0 516.0,183.4 480.8,177.0 448.1,170.9 417.5,165.0 389.0,159.3" fill="#4f3889"/>
<polygon points="391.0,155.8 419.5,161.3 450.1,167.1 482.9,173.1 518.1,179.3 555.8,185.7 596.3,192.4 593.1,198.9 552.6,192.0 514.9,185.3 479.8,178.9 447.0,172.7 416.5,166.7 388.1,161.0" fill="#523588"/>
<polygon points="390.0,157.6 418.5,163.2 449.1,169.0 481.9,175.1 517.0,181.4 554.7,187.9 595.2,194.6 592.0,200.9 551.6,193.9 513.9,187.2 478.8,180.7 446.0,174.4 415.5,168.4 387.1,162.6" fill="#543386"/>
<polygon points="389.0,159.3 417.5,165.0 448.1,170.9 480.8,177.0 516.0,183.4 553.7,190.0 594.1,196.8 591.0,202.8 550.5,195.8 512.8,188.9 477.7,182.4 445.0,176.1 414.5,170.0 386.1,164.1" fill="#573085"/>
<polygon points="388.1,161.0 416.5,166.7 447.0,172.7 479.8,178.9 514.9,185.3 552.6,192.0 593.1,198.9 589.9,204.6 549.5,197.5 511.8,190.6 476.7,184.0 444.0,177.6 413.5,171.5 385.1,165.6" fill="#582d83"/>
<polygon points="387.1,162.6 415.5,168.4 446.0,174.4 478.8,180.7 513.9,187.2 551.6,193.9 592.0,200.9 588.9,206.4 548.4,199.2 510.7,192.2 475.6,185.5 442.9,179.1 412.5,172.9 384.1,167.0" fill="#5a2b81"/>
<polygon points="386.1,164.1 414.5,170.0 445.0,176.1 477.7,182.4 512.8,188.9 550.5,195.8 591.0,202.8 587.8,208.1 547.4,200.8 509.7,193.8 474.6,187.0 441.9,180.5 411.5,174.3 383.1,168.3" fill="#5b2880"/>
<polygon points="385.1,165.6 413.5,171.5 444.0,177.6 476.7,184.0 511.8,190.6 549.5,197.5 589.9,204.6 586.8,209.7 546.3,202.3 508.6,195.3 473.5,188.4 440.9,181.9 410.4,175.6 382.1,169.5" fill="#5d267e"/>
<polygon points="384.1,167.0 412.5,172.9 442.9,179.1 475.6,185.5 510.7,192.2 548.4,199.2 588.9,206.4 585.7,211.2 545.2,203.8 507.6,196.7 472.5,189.8 439.8,183.2 409.4,176.8 381.1,170.7" fill="#5e247d"/>
<polygon points="383.1,168.3 411.5,174.3 441.9,180.5 474.6,187.0 509.7,193.8 547.4,200.8 587.8,208.1 584.7,212.7 544.2,205.2 506.5,198.0 471.4,191.1 438.8,184.4 408.3,178.0 380.0,171.9" fill="#5f227c"/>
<polygon points="382.1,169.5 410.4,175.6 440.9,181.9 473.5,188.4 508.6,195.3 546.3,202.3 586.8,209.7 583.6,214.1 543.1,206.6 505.4,199.3 470.3,192.3 437.7,185.6 407.3,179.1 379.0,172.9" fill="#60217a"/>
<polygon points="381.1,170.7 409.4,176.8 439.8,183.2 472.5,189.8 507.6,196.7 545.2,203.8 585.7,211.2 582.6,215.5 542.1,207.9 504.4,200.6 469.3,193.5 436.6,186.7 406.2,180.2 378.0,174.0" fill="#611f79"/>
<polygon points="380.0,171.9 408.3,178.0 438.8,184.4 471.4,191.1 506.5,198.0 544.2,205.2 584.7,212.7 581.5,216.8 541.0,209.1 503.3,201.8 468.2,194.7 435.6,187.8 405.2,181.3 376.9,175.0" fill="#611d78"/>
<polygon points="379.0,172.9 407.3,179.1 437.7,185.6 470.3,192.3 505.4,199.3 543.1,206.6 583.6,214.1 580.5,218.1 539.9,210.3 502.2,202.9 467.1,195.7 434.5,188.9 404.1,182.3 375.9,175.9" fill="#611b76"/>
<polygon points="378.0,174.0 406.2,180.2 436.6,186.7 469.3,193.5 504.4,200.6 542.1,207.9 582.6,215.5 579.4,219.3 538.9,211.5 501.1,204.0 466.1,196.8 433.4,189.9 403.1,183.2 374.8,176.8" fill="#621a75"/>
<polygon points="376.9,175.0 405.2,181.3 435.6,187.8 468.2,194.7 503.3,201.8 541.0,209.1 581.5,216.8 578.4,220.5 537.8,212.6 500.1,205.1 465.0,197.8 432.3,190.8 402.0,184.1 373.8,177.7" fill="#621873"/>
<polygon points="375.9,175.9 404.1,182.3 434.5,188.9 467.1,195.7 502.2,202.9 539.9,210.3 580.5,218.1 577.4,221.6 536.7,213.7 499.0,206.1 463.9,198.8 431.2,191.8 400.9,185.0 372.7,178.6" fill="#621672"/>
<polygon points="374.8,176.8 403.1,183.2 433.4,189.9 466.1,196.8 501.1,204.0 538.9,211.5 579.4,219.3 576.3,222.7 535.7,214.7 497.9,207.1 462.8,199.7 430.2,192.6 399.8,185.9 371.6,179.4" fill="#621571"/>
<polygon points="373.8,177.7 402.0,184.1 432.3,190.8 465.0,197.8 500.1,205.1 537.8,212.6 578.4,220.5 575.2,223.8 534.6,215.8 496.8,208.0 461.7,200.6 429.1,193.5 398.7,186.7 370.5,180.1" fill="#62136f"/>
<polygon points="372.7,178.6 400.9,185.0 431.2,191.8 463.9,198.8 499.0,206.1 536.7,213.7 577.4,221.6 574.2,224.8 533.5,216.7 495.7,209.0 460.6,201.5 428.0,194.3 397.6,187.5 369.4,180.9" fill="#61126e"/>
<polygon points="371.6,179.4 399.8,185.9 430.2,192.6 462.8,199.7 497.9,207.1 535.7,214.7 576.3,222.7 573.1,225.8 532.4,217.7 494.6,209.9 459.5,202.3 426.9,195.1 396.5,188.2 368.4,181.6" fill="#61116d"/>
<polygon points="370.5,180.1 398.7,186.7 429.1,193.5 461.7,200.6 496.8,208.0 534.6,215.8 575.2,223.8 572.1,226.8 531.3,218.6 493.5,210.7 458.4,203.2 425.7,195.9 395.4,189.0 367.3,182.3" fill="#610f6c"/>
<polygon points="369.4,180.9 397.6,187.5 428.0,194.3 460.6,201.5 495.7,209.0 533.5,216.7 574.2,224.8 571.0,227.8 530.3,219.5 492.4,211.6 457.3,204.0 424.6,196.7 394.3,189.7 366.2,183.0" fill="#610e6b"/>
<polygon points="368.4,181.6 396.5,188.2 426.9,195.1 459.5,202.3 494.6,209.9 532.4,217.7 573.1,225.8 569.9,228.7 529.2,220.4 491.3,212.4 456.1,204.7 423.5,197.4 393.2,190.4 365.1,183.6" fill="#610d6a"/>
<polygon points="367.3,182.3 395.4,189.0 425.7,195.9 458.4,203.2 493.5,210.7 531.3,218.6 572.1,226.8 568.9,229.6 528.1,221.2 490.2,213.2 455.0,205.5 422.4,198.1 392.1,191.0 363.9,184.3" fill="#600c69"/>
<polygon points="366.2,183.0 394.3,189.7 424.6,196.7 457.3,204.0 492.4,211.6 530.3,219.5 571.0,227.8 567.8,230.5 527.0,222.1 489.1,214.0 453.9,206.2 421.3,198.8 391.0,191.7 362.8,184.9" fill="#600b68"/>
<polygon points="365.1,183.6 393.2,190.4 423.5,197.4 456.1,204.7 491.3,212.4 529.2,220.4 569.9,228.7 566.7,231.4 525.9,222.9 487.9,214.7 452.8,206.9 420.1,199.5 389.8,192.3 361.7,185.5" fill="#600a67"/>
<polygon points="363.9,184.3 392.1,191.0 422.4,198.1 455.0,205.5 490.2,213.2 528.1,221.2 568.9,229.6 565.6,232.2 524.7,223.7 486.8,215.5 451.6,207.6 419.0,200.1 388.7,192.9 360.6,186.1" fill="#5f0966"/>
<polygon points="362.8,184.9 391.0,191.7 421.3,198.8 453.9,206.2 489.1,214.0 527.0,222.1 567.8,230.5 564.6,233.1 523.6,224.5 485.7,216.2 450.5,208.3 417.8,200.8 387.6,193.5 359.5,186.6" fill="#5f0865"/>
<polygon points="361.7,185.5 389.8,192.3 420.1,199.5 452.8,206.9 487.9,214.7 525.9,222.9 566.7,231.4 563.5,233.9 522.5,225.2 484.5,216.9 449.3,209.0 416.7,201.4 386.4,194.1 358.3,187.2" fill="#5f0765"/>
<polygon points="360.6,186.1 388.7,192.9 419.0,200.1 451.6,207.6 486.8,215.5 524.7,223.7 565.6,232.2 562.4,234.7 521.4,226.0 483.4,217.7 448.2,209.7 415.5,202.0 385.3,194.7 357.2,187.7" fill="#5f0764"/>
<polygon points="359.5,186.6 387.6,193.5 417.8,200.8 450.5,208.3 485.7,216.2 523.6,224.5 564.6,233.1 561.3,235.5 520.3,226.7 482.2,218.4 447.0,210.3 414.4,202.6 384.1,195.3 356.0,188.3" fill="#5e0663"/>
<polygon points="358.3,187.2 386.4,194.1 416.7,201.4 449.3,209.0 484.5,216.9 522.5,225.2 563.5,233.9 560.2,236.3 519.1,227.5 481.1,219.0 445.9,211.0 413.2,203.2 382.9,195.8 354.9,188.8" fill="#5e0663"/>
<polygon points="357.2,187.7 385.3,194.7 415.5,202.0 448.2,209.7 483.4,217.7 521.4,226.0 562.4,234.7 559.1,237.1 518.0,228.2 479.9,219.7 444.7,211.6 412.0,203.8 381.8,196.4 353.7,189.3" fill="#5e0663"/>
<polygon points="356.0,188.3 384.1,195.3 414.4,202.6 447.0,210.3 482.2,218.4 520.3,226.7 561.3,235.5 558.0,237.9 516.9,228.9 478.8,220.4 443.5,212.2 410.9,204.4 380.6,196.9 352.6,189.8" fill="#5e0663"/>
<polygon points="354.9,188.8 382.9,195.8 413.2,203.2 445.9,211.0 481.1,219.0 519.1,227.5 560.2,236.3 556.9,238.6 515.7,229.6 477.6,221.0 442.4,212.8 409.7,205.0 379.4,197.5 351.4,190.3" fill="#5e0663"/>
<polygon points="353.7,189.3 381.8,196.4 412.0,203.8 444.7,211.6 479.9,219.7 518.0,228.2 559.1,237.1 555.7,239.4 514.6,230.3 476.4,221.7 441.2,213.4 408.5,205.5 378.3,198.0 350.2,190.8" fill="#5e0563"/>
<polygon points="352.6,189.8 380.6,196.9 410.9,204.4 443.5,212.2 478.8,220.4 516.9,228.9 558.0,237.9 554.6,240.1 513.4,231.0 475.3,222.3 440.0,214.0 407.3,206.1 377.1,198.5 349.1,191.3" fill="#5d0563"/>
<polygon points="351.4,190.3 379.4,197.5 409.7,205.0 442.4,212.8 477.6,221.0 515.7,229.6 556.9,238.6 553.5,240.9 512.2,231.7 474.1,223.0 438.8,214.6 406.1,206.6 375.9,199.0 347.9,191.7" fill="#5d0562"/>
<polygon points="350.2,190.8 378.3,198.0 408.5,205.5 441.2,213.4 476.4,221.7 514.6,230.3 555.7,239.4 552.3,241.6 511.1,232.4 472.9,223.6 437.6,215.2 404.9,207.2 374.7,199.5 346.7,192.2" fill="#5d0562"/>
<polygon points="349.1,191.3 377.1,198.5 407.3,206.1 440.0,214.0 475.3,222.3 513.4,231.0 554.6,240.1 551.2,242.4 509.9,233.1 471.7,224.3 436.4,215.8 403.7,207.7 373.5,200.0 345.5,192.7" fill="#5d0562"/>
<polygon points="347.9,191.7 375.9,199.0 406.1,206.6 438.8,214.6 474.1,223.0 512.2,231.7 553.5,240.9 550.1,243.1 508.7,233.8 470.5,224.9 435.2,216.4 402.5,208.3 372.3,200.5 344.3,193.2" fill="#5d0562"/>
<polygon points="346.7,192.2 374.7,199.5 404.9,207.2 437.6,215.2 472.9,223.6 511.1,232.4 552.3,241.6 548.9,243.8 507.5,234.5 469.3,225.5 434.0,217.0 401.3,208.8 371.1,201.0 343.1,193.6" fill="#5d0562"/>
<polygon points="345.5,192.7 373.5,200.0 403.7,207.7 436.4,215.8 471.7,224.3 509.9,233.1 551.2,242.4 547.8,244.6 506.4,235.1 468.1,226.1 432.8,217.5 400.1,209.3 369.9,201.5 341.9,194.1" fill="#5d0562"/>
<polygon points="344.3,193.2 372.3,200.5 402.5,208.3 435.2,216.4 470.5,224.9 508.7,233.8 550.1,243.1 546.6,245.3 505.2,235.8 466.9,226.8 431.5,218.1 398.9,209.9 368.7,202.0 340.7,194.5" fill="#5d0562"/>
<polygon points="343.1,193.6 371.1,201.0 401.3,208.8 434.0,217.0 469.3,225.5 507.5,234.5 548.9,243.8 545.4,246.0 504.0,236.5 465.7,227.4 430.3,218.7 397.6,210.4 367.4,202.5 339.5,195.0" fill="#5d0562"/>
<polygon points="341.9,194.1 369.9,201.5 400.1,209.3 432.8,217.5 468.1,226.1 506.4,235.1 547.8,244.6 544.3,246.8 502.8,237.2 464.5,228.0 429.1,219.2 396.4,210.9 366.2,203.0 338.3,195.4" fill="#5d0562"/>
<polygon points="340.7,194.5 368.7,202.0 398.9,209.9 431.5,218.1 466.9,226.8 505.2,235.8 546.6,245.3 543.1,247.5 501.6,237.8 463.2,228.6 427.9,219.8 395.2,211.4 365.0,203.5 337.1,195.9" fill="#5d0562"/>
<polygon points="339.5,195.0 367.4,202.5 397.6,210.4 430.3,218.7 465.7,227.4 504.0,236.5 545.4,246.0 541.9,248.2 500.4,238.5 462.0,229.2 426.6,220.4 393.9,212.0 363.7,203.9 335.8,196.3" fill="#5c0562"/>
<polygon points="338.3,195.4 366.2,203.0 396.4,210.9 429.1,219.2 464.5,228.0 502.8,237.2 544.3,246.8 540.7,248.9 499.1,239.2 460.8,229.8 425.4,220.9 392.7,212.5 362.5,204.4 334.6,196.8" fill="#5c0562"/>
<polygon points="337.1,195.9 365.0,203.5 395.2,211.4 427.9,219.8 463.2,228.6 501.6,237.8 543.1,247.5 539.5,249.7 497.9,239.8 459.5,230.4 424.1,221.5 391.4,213.0 361.3,204.9 333.4,197.2" fill="#5c0561"/>
<polygon points="335.8,196.3 363.7,203.9 393.9,212.0 426.6,220.4 462.0,229.2 500.4,238.5 541.9,248.2 538.3,250.4 496.7,240.5 458.3,231.1 422.9,222.1 390.2,213.5 360.0,205.4 332.1,197.6" fill="#5c0461"/>
<polygon points="334.6,196.8 362.5,204.4 392.7,212.5 425.4,220.9 460.8,229.8 499.1,239.2 540.7,248.9 537.1,251.1 495.5,241.2 457.0,231.7 421.6,222.6 388.9,214.0 358.8,205.9 330.9,198.1" fill="#5c0461"/>
<polygon points="333.4,197.2 361.3,204.9 391.4,213.0 424.1,221.5 459.5,230.4 497.9,239.8 539.5,249.7 535.9,251.9 494.2,241.8 455.8,232.3 420.3,223.2 387.7,214.6 357.5,206.3 329.7,198.5" fill="#5c0461"/>
<polygon points="332.1,197.6 360.0,205.4 390.2,213.5 422.9,222.1 458.3,231.1 496.7,240.5 538.3,250.4 534.7,252.6 493.0,242.5 454.5,232.9 419.1,223.8 386.4,215.1 356.2,206.8 328.4,199.0" fill="#5c0461"/>
<polygon points="330.9,198.1 358.8,205.9 388.9,214.0 421.6,222.6 457.0,231.7 495.5,241.2 537.1,251.1 533.5,253.3 491.7,243.2 453.2,233.5 417.8,224.3 385.1,215.6 355.0,207.3 327.1,199.4" fill="#5c0461"/>
<polygon points="329.7,198.5 357.5,206.3 387.7,214.6 420.3,223.2 455.8,232.3 494.2,241.8 535.9,251.9 532.3,254.0 490.5,243.8 452.0,234.1 416.5,224.9 383.8,216.1 353.7,207.8 325.9,199.8" fill="#5c0461"/>
<polygon points="328.4,199.0 356.2,206.8 386.4,215.1 419.1,223.8 454.5,232.9 493.0,242.5 534.7,252.6 531.0,254.8 489.2,244.5 450.7,234.7 415.2,225.4 382.5,216.6 352.4,208.2 324.6,200.3" fill="#5c0461"/>
<polygon points="327.1,199.4 355.0,207.3 385.1,215.6 417.8,224.3 453.2,233.5 491.7,243.2 533.5,253.3 529.8,255.5 487.9,245.2 449.4,235.3 413.9,226.0 381.2,217.1 351.1,208.7 323.4,200.7" fill="#5c0461"/>
<polygon points="325.9,199.8 353.7,207.8 383.8,216.1 416.5,224.9 452.0,234.1 490.5,243.8 532.3,254.0 528.6,256.3 486.6,245.8 448.1,236.0 412.6,226.6 379.9,217.7 349.8,209.2 322.1,201.2" fill="#5c0461"/>
<polygon points="324.6,200.3 352.4,208.2 382.5,216.6 415.2,225.4 450.7,234.7 489.2,244.5 531.0,254.8 527.3,257.0 485.4,246.5 446.8,236.6 411.3,227.1 378.6,218.2 348.5,209.7 320.8,201.6" fill="#5c0461"/>
<polygon points="323.4,200.7 351.1,208.7 381.2,217.1 413.9,226.0 449.4,235.3 487.9,245.2 529.8,255.5 526.0,257.7 484.1,247.2 445.5,237.2 410.0,227.7 377.3,218.7 347.2,210.1 319.5,202.0" fill="#5c0461"/>
<polygon points="322.1,201.2 349.8,209.2 379.9,217.7 412.6,226.6 448.1,236.0 486.6,245.8 528.6,256.3 524.8,258.5 482.8,247.9 444.2,237.8 408.7,228.3 376.0,219.2 345.9,210.6 318.2,202.5" fill="#5c0461"/>
<polygon points="320.8,201.6 348.5,209.7 378.6,218.2 411.3,227.1 446.8,236.6 485.4,246.5 527.3,257.0 523.5,259.2 481.5,248.6 442.9,238.4 407.4,228.8 374.7,219.7 344.6,211.1 316.9,202.9" fill="#5c0461"/>
<polygon points="319.5,202.0 347.2,210.1 377.3,218.7 410.0,227.7 445.5,237.2 484.1,247.2 526.0,257.7 522.2,260.0 480.2,249.2 441.5,239.1 406.0,229.4 373.4,220.3 343.3,211.6 315.6,203.4" fill="#5c0461"/>
<polygon points="318.2,202.5 345.9,210.6 376.0,219.2 408.7,228.3 444.2,237.8 482.8,247.9 524.8,258.5 521.0,260.7 478.9,249.9 440.2,239.7 404.7,230.0 372.0,220.8 342.0,212.1 314.3,203.8" fill="#5c0461"/>
<polygon points="316.9,202.9 344.6,211.1 374.7,219.7 407.4,228.8 442.9,238.4 481.5,248.6 523.5,259.2 519.7,261.5 477.5,250.6 438.9,240.3 403.4,230.6 370.7,221.3 340.7,212.5 313.0,204.2" fill="#5c0461"/>
<polygon points="315.6,203.4 343.3,211.6 373.4,220.3 406.0,229.4 441.5,239.1 480.2,249.2 522.2,260.0 518.4,262.2 476.2,251.3 437.5,240.9 402.0,231.1 369.4,221.8 339.3,213.0 311.7,204.7" fill="#5c0461"/>
<polygon points="314.3,203.8 342.0,212.1 372.0,220.8 404.7,230.0 440.2,239.7 478.9,249.9 521.0,260.7 517.1,263.0 474.9,252.0 436.2,241.6 400.7,231.7 368.0,222.4 338.0,213.5 310.4,205.1" fill="#5c0461"/>
<polygon points="313.0,204.2 340.7,212.5 370.7,221.3 403.4,230.6 438.9,240.3 477.5,250.6 519.7,261.5 515.8,263.8 473.6,252.7 434.8,242.2 399.3,232.3 366.7,222.9 336.7,214.0 309.1,205.6" fill="#5c0461"/>
<polygon points="311.7,204.7 339.3,213.0 369.4,221.8 402.0,231.1 437.5,240.9 476.2,251.3 518.4,262.2 514.4,264.5 472.2,253.4 433.5,242.8 397.9,232.9 365.3,223.4 335.3,214.5 307.7,206.0" fill="#5c0461"/>
<polygon points="310.4,205.1 338.0,213.5 368.0,222.4 400.7,231.7 436.2,241.6 474.9,252.0 517.1,263.0 513.1,265.3 470.9,254.1 432.1,243.5 396.6,233.5 363.9,224.0 334.0,215.0 306.4,206.5" fill="#5c0461"/>
<polygon points="309.1,205.6 336.7,214.0 366.7,222.9 399.3,232.3 434.8,242.2 473.6,252.7 515.8,263.8 511.8,266.1 469.5,254.8 430.7,244.1 395.2,234.0 362.6,224.5 332.6,215.5 305.1,206.9" fill="#5c0461"/>
<polygon points="307.7,206.0 335.3,214.5 365.3,223.4 397.9,232.9 433.5,242.8 472.2,253.4 514.4,264.5 510.5,266.8 468.1,255.5 429.4,244.8 393.8,234.6 361.2,225.0 331.2,216.0 303.7,207.4" fill="#5c0461"/>
<polygon points="306.4,206.5 334.0,215.0 363.9,224.0 396.6,233.5 432.1,243.5 470.9,254.1 513.1,265.3 510.5,266.8 468.1,255.5 429.4,244.8 393.8,234.6 361.2,225.0 331.2,216.0 303.7,207.4" fill="#5c0461"/>
<polygon points="305.1,206.9 332.6,215.5 362.6,224.5 395.2,234.0 430.7,244.1 469.5,254.8 511.8,266.1 510.5,266.8 468.1,255.5 429.4,244.8 393.8,234.6 361.2,225.0 331.2,216.0 303.7,207.4" fill="#5c0461"/>
</g>
<defs><linearGradient id="cb" x1="0" y1="1" x2="0" y2="0">
<stop offset="0.0000" stop-color="#4e0055"/>
<stop offset="0.0159" stop-color="#4f015b"/>
<stop offset="0.0317" stop-color="#500461"/>
<stop offset="0.0476" stop-color="#510a67"/>
<stop offset="0.0635" stop-color="#52116d"/>
<stop offset="0.0794" stop-color="#511771"/>
<stop offset="0.0952" stop-color="#501d76"/>
<stop offset="0.1111" stop-color="#4f237a"/>
<stop offset="0.1270" stop-color="#4d297e"/>
<stop offset="0.1429" stop-color="#4a2f81"/>
<stop offset="0.1587" stop-color="#473484"/>
<stop offset="0.1746" stop-color="#443987"/>
<stop offset="0.1905" stop-color="#403e89"/>
<stop offset="0.2063" stop-color="#3b438b"/>
<stop offset="0.2222" stop-color="#36488c"/>
<stop offset="0.2381" stop-color="#304d8d"/>
<stop offset="0.2540" stop-color="#28528e"/>
<stop offset="0.2698" stop-color="#1f578f"/>
<stop offset="0.2857" stop-color="#105b8f"/>
<stop offset="0.3016" stop-color="#00608f"/>
<stop offset="0.3175" stop-color="#006490"/>
<stop offset="0.3333" stop-color="#006890"/>
<stop offset="0.3492" stop-color="#006c90"/>
<stop offset="0.3651" stop-color="#007090"/>
<stop offset="0.3810" stop-color="#007490"/>
<stop offset="0.3968" stop-color="#007890"/>
<stop offset="0.4127" stop-color="#007c90"/>
<stop offset="0.4286" stop-color="#008090"/>
<stop offset="0.4444" stop-color="#008490"/>
<stop offset="0.4603" stop-color="#00888f"/>
<stop offset="0.4762" stop-color="#008c8e"/>
<stop offset="0.4921" stop-color="#00908d"/>
<stop offset="0.5079" stop-color="#00948d"/>
<stop offset="0.5238" stop-color="#00988b"/>
<stop offset="0.5397" stop-color="#009b8a"/>
<stop offset="0.5556" stop-color="#009f89"/>
<stop offset="0.5714" stop-color="#00a387"/>
<stop offset="0.5873" stop-color="#00a785"/>
<stop offset="0.6032" stop-color="#00aa82"/>
<stop offset="0.6190" stop-color="#00ae80"/>
<stop offset="0.6349" stop-color="#00b17d"/>
<stop offset="0.6508" stop-color="#00b579"/>
<stop offset="0.6667" stop-color="#00b875"/>
<stop offset="0.6825" stop-color="#00bc71"/>
<stop offset="0.6984" stop-color="#00bf6c"/>
<stop offset="0.7143" stop-color="#00c267"/>
<stop offset="0.7302" stop-color="#00c662"/>
<stop offset="0.7460" stop-color="#00c95c"/>
<stop offset="0.7619" stop-color="#00cc56"/>
<stop offset="0.7778" stop-color="#00cf4e"/>
<stop offset="0.7937" stop-color="#10d146"/>
<stop offset="0.8095" stop-color="#3dd43d"/>
<stop offset="0.8254" stop-color="#57d633"/>
<stop offset="0.8413" stop-color="#6dd827"/>
<stop offset="0.8571" stop-color="#80da17"/>
<stop offset="0.8730" stop-color="#91dc00"/>
<stop offset="0.8889" stop-color="#a2de00"/>
<stop offset="0.9048" stop-color="#b2df00"/>
<stop offset="0.9206" stop-color="#c2e100"/>
<stop offset="0.9365" stop-color="#d1e200"/>
<stop offset="0.9524" stop-color="#dee400"/>
<stop offset="0.9683" stop-color="#ebe500"/>
<stop offset="0.9841" stop-color="#f8e600"/>
<stop offset="1.0000" stop-color="#ffe800"/>
</linearGradient></defs>
<rect x="654.2" y="22.7" width="11.5" height="177.6" fill="url(#cb)" stroke="#444" stroke-width="0.4"/>
<line x1="665.7" x2="667.7" y1="183.8" y2="183.8" stroke="#444" stroke-width="0.4"/>
<text x="668.3" y="185.6" font-size="5">10</text>
<line x1="665.7" x2="667.7" y1="165.6" y2="165.6" stroke="#444" stroke-width="0.4"/>
<text x="668.3" y="167.4" font-size="5">20</text>
<line x1="665.7" x2="667.7" y1="147.4" y2="147.4" stroke="#444" stroke-width="0.4"/>
<text x="668.3" y="149.2" font-size="5">30</text>
<line x1="665.7" x2="667.7" y1="129.2" y2="129.2" stroke="#444" stroke-width="0.4"/>
<text x="668.3" y="131.0" font-size="5">40</text>
<line x1="665.7" x2="667.7" y1="111.0" y2="111.0" stroke="#444" stroke-width="0.4"/>
<text x="668.3" y="112.8" font-size="5">50</text>
<line x1="665.7" x2="667.7" y1="92.8" y2="92.8" stroke="#444" stroke-width="0.4"/>
<text x="668.3" y="94.6" font-size="5">60</text>
<line x1="665.7" x2="667.7" y1="74.6" y2="74.6" stroke="#444" stroke-width="0.4"/>
<text x="668.3" y="76.4" font-size="5">70</text>
<line x1="665.7" x2="667.7" y1="56.4" y2="56.4" stroke="#444" stroke-width="0.4"/>
<text x="668.3" y="58.2" font-size="5">80</text>
<line x1="665.7" x2="667.7" y1="38.2" y2="38.2" stroke="#444" stroke-width="0.4"/>
<text x="668.3" y="40.0" font-size="5">90</text>
<text x="661.9" y="12.9" font-size="6.4" text-anchor="middle">Risk</text><text x="661.9" y="20.4" font-size="6.4" text-anchor="middle">Probability (%)</text>
<text x="0.4" y="8.7" font-size="12" font-weight="bold" style="font-family:'DejaVu Sans','Liberation Sans',sans-serif;fill:#000">A</text>
<text x="326.3" y="9.8" font-size="12" font-weight="bold" style="font-family:'DejaVu Sans','Liberation Sans',sans-serif;fill:#000">B</text>
<text transform="translate(22.4,29.3)" font-size="5.0" text-anchor="end" dominant-baseline="central">100</text>
<text transform="translate(23.1,65.1)" font-size="5.0" text-anchor="end" dominant-baseline="central">80</text>
<text transform="translate(25.2,100.3)" font-size="5.0" text-anchor="end" dominant-baseline="central">60</text>
<text transform="translate(27.8,134.2)" font-size="5.0" text-anchor="end" dominant-baseline="central">40</text>
<text transform="translate(29.8,167.7)" font-size="5.0" text-anchor="end" dominant-baseline="central">20</text>
<text transform="translate(30.2,199.3)" font-size="5.0" text-anchor="end" dominant-baseline="central">0</text>
<text transform="translate(352.0,31.6)" font-size="5.0" text-anchor="end" dominant-baseline="central">100</text>
<text transform="translate(353.2,67.5)" font-size="5.0" text-anchor="end" dominant-baseline="central">80</text>
<text transform="translate(355.6,101.9)" font-size="5.0" text-anchor="end" dominant-baseline="central">60</text>
<text transform="translate(358.2,135.2)" font-size="5.0" text-anchor="end" dominant-baseline="central">40</text>
<text transform="translate(361.2,167.1)" font-size="5.0" text-anchor="end" dominant-baseline="central">20</text>
<text transform="translate(362.2,197.9)" font-size="5.0" text-anchor="end" dominant-baseline="central">0</text>
<text transform="translate(10.0,120.3) rotate(88.8)" font-size="5.95" text-anchor="middle" dominant-baseline="central">Risk Probability (%)</text>
<text transform="translate(340.4,121.8) rotate(86.7)" font-size="5.95" text-anchor="middle" dominant-baseline="central">Risk Probability (%)</text>
<text transform="translate(48.3,213.5) rotate(-22.0)" font-size="5.0" text-anchor="middle" dominant-baseline="central">85</text>
<text transform="translate(76.6,227.8) rotate(-22.0)" font-size="5.0" text-anchor="middle" dominant-baseline="central">90</text>
<text transform="translate(108.0,245.7) rotate(-22.0)" font-size="5.0" text-anchor="middle" dominant-baseline="central">95</text>
<text transform="translate(146.7,265.7) rotate(-22.0)" font-size="5.0" text-anchor="middle" dominant-baseline="central">100</text>
<text transform="translate(177.9,263.2) rotate(22.0)" font-size="5.0" text-anchor="middle" dominant-baseline="central">26</text>
<text transform="translate(204.2,249.3) rotate(22.0)" font-size="5.0" text-anchor="middle" dominant-baseline="central">24</text>
<text transform="translate(229.6,236.8) rotate(22.0)" font-size="5.0" text-anchor="middle" dominant-baseline="central">22</text>
<text transform="translate(252.0,225.4) rotate(22.0)" font-size="5.0" text-anchor="middle" dominant-baseline="central">20</text>
<text transform="translate(272.0,215.3) rotate(22.0)" font-size="5.0" text-anchor="middle" dominant-baseline="central">18</text>
<text transform="translate(290.8,206.3) rotate(22.0)" font-size="5.0" text-anchor="middle" dominant-baseline="central">16</text>
<text transform="translate(375.3,209.3) rotate(-22.0)" font-size="5.0" text-anchor="middle" dominant-baseline="central">2</text>
<text transform="translate(388.1,218.3) rotate(-22.0)" font-size="5.0" text-anchor="middle" dominant-baseline="central">4</text>
<text transform="translate(403.1,227.8) rotate(-22.0)" font-size="5.0" text-anchor="middle" dominant-baseline="central">6</text>
<text transform="translate(420.1,238.3) rotate(-22.0)" font-size="5.0" text-anchor="middle" dominant-baseline="central">8</text>
<text transform="translate(438.6,249.6) rotate(-22.0)" font-size="5.0" text-anchor="middle" dominant-baseline="central">10</text>
<text transform="translate(458.5,261.5) rotate(-22.0)" font-size="5.0" text-anchor="middle" dominant-baseline="central">12</text>
<text transform="translate(478.6,274.6) rotate(-22.0)" font-size="5.0" text-anchor="middle" dominant-baseline="central">14</text>
<text transform="translate(506.1,268.9) rotate(22.0)" font-size="5.0" text-anchor="middle" dominant-baseline="central">26</text>
<text transform="translate(533.3,253.2) rotate(22.0)" font-size="5.0" text-anchor="middle" dominant-baseline="central">24</text>
<text transform="translate(558.1,240.4) rotate(22.0)" font-size="5.0" text-anchor="middle" dominant-baseline="central">22</text>
<text transform="translate(580.5,227.2) rotate(22.0)" font-size="5.0" text-anchor="middle" dominant-baseline="central">20</text>
<text transform="translate(600.8,216.5) rotate(22.0)" font-size="5.0" text-anchor="middle" dominant-baseline="central">18</text>
<text transform="translate(620.2,206.0) rotate(22.0)" font-size="5.0" text-anchor="middle" dominant-baseline="central">16</text>
<g transform="translate(21.6,206.4) rotate(29.2)"><text x="0" y="0.00" font-size="5.75" dominant-baseline="central">30-day Moving Average of</text><text x="0" y="7.50" font-size="5.75" dominant-baseline="central">Daily Maximum Relative Humidity (%)</text></g>
<g transform="translate(213.6,253.2) rotate(-26.6)"><text x="0" y="0.00" font-size="5.75" dominant-baseline="central">30-day Moving Average of</text><text x="0" y="7.50" font-size="5.75" dominant-baseline="central">Mean Daily Temperature (C)</text></g>
<g transform="translate(363.3,210.5) rotate(31.7)"><text x="0" y="0.00" font-size="5.75" dominant-baseline="central">14-day Moving Average of</text><text x="0" y="7.50" font-size="5.75" dominant-baseline="central">Daily Total Nighttime Hours with</text><text x="0" y="15.00" font-size="5.75" dominant-baseline="central">RH &gt; 90%</text></g>
<g transform="translate(542.2,258.1) rotate(-28.9)"><text x="0" y="0.00" font-size="5.75" dominant-baseline="central">30-day Moving Average of</text><text x="0" y="7.50" font-size="5.75" dominant-baseline="central">Mean Daily Temperature (C)</text></g>
</svg>
</body></html>
